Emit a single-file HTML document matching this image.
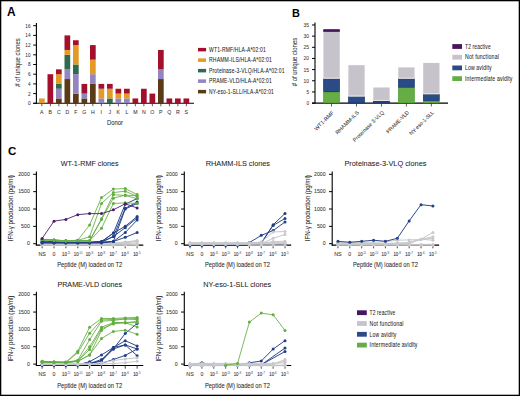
<!DOCTYPE html>
<html><head><meta charset="utf-8"><style>
html,body{margin:0;padding:0;background:#fff;}
#fig{position:relative;width:520px;height:396px;overflow:hidden;background:#fff;}
svg{position:absolute;left:0;top:0;font-family:"Liberation Sans", sans-serif;}
</style></head><body><div id="fig">
<svg width="520" height="396" viewBox="0 0 520 396">
<rect x="0" y="0" width="520" height="396" fill="#fff"/>
<text x="6.9" y="16.2" font-size="11.9" text-anchor="start" fill="#000" font-weight="bold">A</text>
<line x1="36.4" y1="23" x2="36.4" y2="103.8" stroke="#000" stroke-width="1.1"/>
<line x1="33.2" y1="103.3" x2="194" y2="103.3" stroke="#000" stroke-width="1.1"/>
<line x1="33.2" y1="103.3" x2="36.4" y2="103.3" stroke="#000" stroke-width="1"/>
<text x="30.5" y="105.2" font-size="5.5" text-anchor="end" fill="#333" font-weight="normal" stroke="#333" stroke-width="0.05" textLength="2.6" lengthAdjust="spacingAndGlyphs">0</text>
<line x1="33.2" y1="93.6" x2="36.4" y2="93.6" stroke="#000" stroke-width="1"/>
<text x="30.5" y="95.5" font-size="5.5" text-anchor="end" fill="#333" font-weight="normal" stroke="#333" stroke-width="0.05" textLength="2.6" lengthAdjust="spacingAndGlyphs">2</text>
<line x1="33.2" y1="83.9" x2="36.4" y2="83.9" stroke="#000" stroke-width="1"/>
<text x="30.5" y="85.80000000000001" font-size="5.5" text-anchor="end" fill="#333" font-weight="normal" stroke="#333" stroke-width="0.05" textLength="2.6" lengthAdjust="spacingAndGlyphs">4</text>
<line x1="33.2" y1="74.2" x2="36.4" y2="74.2" stroke="#000" stroke-width="1"/>
<text x="30.5" y="76.10000000000001" font-size="5.5" text-anchor="end" fill="#333" font-weight="normal" stroke="#333" stroke-width="0.05" textLength="2.6" lengthAdjust="spacingAndGlyphs">6</text>
<line x1="33.2" y1="64.5" x2="36.4" y2="64.5" stroke="#000" stroke-width="1"/>
<text x="30.5" y="66.4" font-size="5.5" text-anchor="end" fill="#333" font-weight="normal" stroke="#333" stroke-width="0.05" textLength="2.6" lengthAdjust="spacingAndGlyphs">8</text>
<line x1="33.2" y1="54.8" x2="36.4" y2="54.8" stroke="#000" stroke-width="1"/>
<text x="30.5" y="56.699999999999996" font-size="5.5" text-anchor="end" fill="#333" font-weight="normal" stroke="#333" stroke-width="0.05" textLength="5.2" lengthAdjust="spacingAndGlyphs">10</text>
<line x1="33.2" y1="45.1" x2="36.4" y2="45.1" stroke="#000" stroke-width="1"/>
<text x="30.5" y="47.0" font-size="5.5" text-anchor="end" fill="#333" font-weight="normal" stroke="#333" stroke-width="0.05" textLength="5.2" lengthAdjust="spacingAndGlyphs">12</text>
<line x1="33.2" y1="35.400000000000006" x2="36.4" y2="35.400000000000006" stroke="#000" stroke-width="1"/>
<text x="30.5" y="37.300000000000004" font-size="5.5" text-anchor="end" fill="#333" font-weight="normal" stroke="#333" stroke-width="0.05" textLength="5.2" lengthAdjust="spacingAndGlyphs">14</text>
<line x1="33.2" y1="25.700000000000003" x2="36.4" y2="25.700000000000003" stroke="#000" stroke-width="1"/>
<text x="30.5" y="27.6" font-size="5.5" text-anchor="end" fill="#333" font-weight="normal" stroke="#333" stroke-width="0.05" textLength="5.2" lengthAdjust="spacingAndGlyphs">16</text>
<text x="19.6" y="62.5" font-size="7.3" text-anchor="middle" fill="#333" font-weight="normal" stroke="#333" stroke-width="0.05" textLength="48.5" lengthAdjust="spacingAndGlyphs" transform="rotate(-90 19.6 62.5)"># of unique clones</text>
<rect x="39.00" y="98.45" width="5.70" height="4.85" fill="#e39a26"/>
<line x1="41.85" y1="103.3" x2="41.85" y2="106.3" stroke="#333" stroke-width="0.8"/>
<text x="41.85" y="113.8" font-size="5.2" text-anchor="middle" fill="#333" font-weight="normal" stroke="#333" stroke-width="0.05">A</text>
<rect x="47.50" y="74.20" width="5.70" height="29.10" fill="#a2102e"/>
<line x1="50.35" y1="103.3" x2="50.35" y2="106.3" stroke="#333" stroke-width="0.8"/>
<text x="50.35" y="113.8" font-size="5.2" text-anchor="middle" fill="#333" font-weight="normal" stroke="#333" stroke-width="0.05">B</text>
<rect x="56.00" y="98.45" width="5.70" height="4.85" fill="#5b3a16"/>
<rect x="56.00" y="88.75" width="5.70" height="9.70" fill="#9285c2"/>
<rect x="56.00" y="83.90" width="5.70" height="4.85" fill="#2f6b4f"/>
<rect x="56.00" y="74.20" width="5.70" height="9.70" fill="#e39a26"/>
<rect x="56.00" y="69.35" width="5.70" height="4.85" fill="#a2102e"/>
<line x1="58.85" y1="103.3" x2="58.85" y2="106.3" stroke="#333" stroke-width="0.8"/>
<text x="58.85" y="113.8" font-size="5.2" text-anchor="middle" fill="#333" font-weight="normal" stroke="#333" stroke-width="0.05">C</text>
<rect x="64.50" y="79.05" width="5.70" height="24.25" fill="#5b3a16"/>
<rect x="64.50" y="69.35" width="5.70" height="9.70" fill="#9285c2"/>
<rect x="64.50" y="54.80" width="5.70" height="14.55" fill="#2f6b4f"/>
<rect x="64.50" y="49.95" width="5.70" height="4.85" fill="#e39a26"/>
<rect x="64.50" y="35.40" width="5.70" height="14.55" fill="#a2102e"/>
<line x1="67.35" y1="103.3" x2="67.35" y2="106.3" stroke="#333" stroke-width="0.8"/>
<text x="67.35" y="113.8" font-size="5.2" text-anchor="middle" fill="#333" font-weight="normal" stroke="#333" stroke-width="0.05">D</text>
<rect x="73.00" y="93.60" width="5.70" height="9.70" fill="#5b3a16"/>
<rect x="73.00" y="74.20" width="5.70" height="19.40" fill="#9285c2"/>
<rect x="73.00" y="64.50" width="5.70" height="9.70" fill="#2f6b4f"/>
<rect x="73.00" y="45.10" width="5.70" height="19.40" fill="#e39a26"/>
<rect x="73.00" y="40.25" width="5.70" height="4.85" fill="#a2102e"/>
<line x1="75.85" y1="103.3" x2="75.85" y2="106.3" stroke="#333" stroke-width="0.8"/>
<text x="75.85" y="113.8" font-size="5.2" text-anchor="middle" fill="#333" font-weight="normal" stroke="#333" stroke-width="0.05">F</text>
<rect x="81.50" y="98.45" width="5.70" height="4.85" fill="#5b3a16"/>
<rect x="81.50" y="93.60" width="5.70" height="4.85" fill="#9285c2"/>
<rect x="81.50" y="83.90" width="5.70" height="9.70" fill="#a2102e"/>
<line x1="84.35" y1="103.3" x2="84.35" y2="106.3" stroke="#333" stroke-width="0.8"/>
<text x="84.35" y="113.8" font-size="5.2" text-anchor="middle" fill="#333" font-weight="normal" stroke="#333" stroke-width="0.05">G</text>
<rect x="90.00" y="83.90" width="5.70" height="19.40" fill="#5b3a16"/>
<rect x="90.00" y="74.20" width="5.70" height="9.70" fill="#9285c2"/>
<rect x="90.00" y="59.65" width="5.70" height="14.55" fill="#e39a26"/>
<rect x="90.00" y="45.10" width="5.70" height="14.55" fill="#a2102e"/>
<line x1="92.85" y1="103.3" x2="92.85" y2="106.3" stroke="#333" stroke-width="0.8"/>
<text x="92.85" y="113.8" font-size="5.2" text-anchor="middle" fill="#333" font-weight="normal" stroke="#333" stroke-width="0.05">H</text>
<rect x="98.50" y="98.45" width="5.70" height="4.85" fill="#9285c2"/>
<rect x="98.50" y="88.75" width="5.70" height="9.70" fill="#e39a26"/>
<rect x="98.50" y="83.90" width="5.70" height="4.85" fill="#a2102e"/>
<line x1="101.35" y1="103.3" x2="101.35" y2="106.3" stroke="#333" stroke-width="0.8"/>
<text x="101.35" y="113.8" font-size="5.2" text-anchor="middle" fill="#333" font-weight="normal" stroke="#333" stroke-width="0.05">I</text>
<rect x="107.00" y="98.45" width="5.70" height="4.85" fill="#2f6b4f"/>
<rect x="107.00" y="88.75" width="5.70" height="9.70" fill="#e39a26"/>
<rect x="107.00" y="83.90" width="5.70" height="4.85" fill="#a2102e"/>
<line x1="109.85" y1="103.3" x2="109.85" y2="106.3" stroke="#333" stroke-width="0.8"/>
<text x="109.85" y="113.8" font-size="5.2" text-anchor="middle" fill="#333" font-weight="normal" stroke="#333" stroke-width="0.05">J</text>
<rect x="115.50" y="98.45" width="5.70" height="4.85" fill="#9285c2"/>
<rect x="115.50" y="93.60" width="5.70" height="4.85" fill="#e39a26"/>
<rect x="115.50" y="88.75" width="5.70" height="4.85" fill="#a2102e"/>
<line x1="118.35" y1="103.3" x2="118.35" y2="106.3" stroke="#333" stroke-width="0.8"/>
<text x="118.35" y="113.8" font-size="5.2" text-anchor="middle" fill="#333" font-weight="normal" stroke="#333" stroke-width="0.05">K</text>
<rect x="124.00" y="98.45" width="5.70" height="4.85" fill="#9285c2"/>
<rect x="124.00" y="93.60" width="5.70" height="4.85" fill="#e39a26"/>
<rect x="124.00" y="88.75" width="5.70" height="4.85" fill="#a2102e"/>
<line x1="126.85" y1="103.3" x2="126.85" y2="106.3" stroke="#333" stroke-width="0.8"/>
<text x="126.85" y="113.8" font-size="5.2" text-anchor="middle" fill="#333" font-weight="normal" stroke="#333" stroke-width="0.05">L</text>
<rect x="132.50" y="98.45" width="5.70" height="4.85" fill="#a2102e"/>
<line x1="135.35" y1="103.3" x2="135.35" y2="106.3" stroke="#333" stroke-width="0.8"/>
<text x="135.35" y="113.8" font-size="5.2" text-anchor="middle" fill="#333" font-weight="normal" stroke="#333" stroke-width="0.05">M</text>
<rect x="141.00" y="88.75" width="5.70" height="14.55" fill="#a2102e"/>
<line x1="143.85" y1="103.3" x2="143.85" y2="106.3" stroke="#333" stroke-width="0.8"/>
<text x="143.85" y="113.8" font-size="5.2" text-anchor="middle" fill="#333" font-weight="normal" stroke="#333" stroke-width="0.05">N</text>
<rect x="149.50" y="93.60" width="5.70" height="9.70" fill="#a2102e"/>
<line x1="152.35" y1="103.3" x2="152.35" y2="106.3" stroke="#333" stroke-width="0.8"/>
<text x="152.35" y="113.8" font-size="5.2" text-anchor="middle" fill="#333" font-weight="normal" stroke="#333" stroke-width="0.05">O</text>
<rect x="158.00" y="79.05" width="5.70" height="24.25" fill="#5b3a16"/>
<rect x="158.00" y="69.35" width="5.70" height="9.70" fill="#9285c2"/>
<rect x="158.00" y="49.95" width="5.70" height="19.40" fill="#a2102e"/>
<line x1="160.85" y1="103.3" x2="160.85" y2="106.3" stroke="#333" stroke-width="0.8"/>
<text x="160.85" y="113.8" font-size="5.2" text-anchor="middle" fill="#333" font-weight="normal" stroke="#333" stroke-width="0.05">P</text>
<rect x="166.50" y="98.45" width="5.70" height="4.85" fill="#a2102e"/>
<line x1="169.35" y1="103.3" x2="169.35" y2="106.3" stroke="#333" stroke-width="0.8"/>
<text x="169.35" y="113.8" font-size="5.2" text-anchor="middle" fill="#333" font-weight="normal" stroke="#333" stroke-width="0.05">Q</text>
<rect x="175.00" y="98.45" width="5.70" height="4.85" fill="#a2102e"/>
<line x1="177.85" y1="103.3" x2="177.85" y2="106.3" stroke="#333" stroke-width="0.8"/>
<text x="177.85" y="113.8" font-size="5.2" text-anchor="middle" fill="#333" font-weight="normal" stroke="#333" stroke-width="0.05">R</text>
<rect x="183.50" y="98.45" width="5.70" height="4.85" fill="#a2102e"/>
<line x1="186.35" y1="103.3" x2="186.35" y2="106.3" stroke="#333" stroke-width="0.8"/>
<text x="186.35" y="113.8" font-size="5.2" text-anchor="middle" fill="#333" font-weight="normal" stroke="#333" stroke-width="0.05">S</text>
<text x="114.9" y="124.9" font-size="8.0" text-anchor="middle" fill="#222" font-weight="normal" stroke="#222" stroke-width="0.05" textLength="16" lengthAdjust="spacingAndGlyphs">Donor</text>
<rect x="198.00" y="47.90" width="8.10" height="3.50" fill="#a2102e"/>
<text x="209" y="51.6" font-size="6.4" text-anchor="start" fill="#222" font-weight="normal" stroke="#222" stroke-width="0.05" textLength="57" lengthAdjust="spacingAndGlyphs" letter-spacing="0.2">WT1-RMF/HLA-A*02:01</text>
<rect x="198.00" y="58.40" width="8.10" height="3.50" fill="#e39a26"/>
<text x="209" y="62.1" font-size="6.4" text-anchor="start" fill="#222" font-weight="normal" stroke="#222" stroke-width="0.05" textLength="63" lengthAdjust="spacingAndGlyphs" letter-spacing="0.2">RHAMM-ILS/HLA-A*02:01</text>
<rect x="198.00" y="68.90" width="8.10" height="3.50" fill="#2f6b4f"/>
<text x="209" y="72.60000000000001" font-size="6.4" text-anchor="start" fill="#222" font-weight="normal" stroke="#222" stroke-width="0.05" textLength="75.6" lengthAdjust="spacingAndGlyphs" letter-spacing="0.2">Proteinase-3-VLQ/HLA-A*02:01</text>
<rect x="198.00" y="79.40" width="8.10" height="3.50" fill="#9285c2"/>
<text x="209" y="83.10000000000001" font-size="6.4" text-anchor="start" fill="#222" font-weight="normal" stroke="#222" stroke-width="0.05" textLength="63" lengthAdjust="spacingAndGlyphs" letter-spacing="0.2">PRAME-VLD/HLA-A*02:01</text>
<rect x="198.00" y="89.90" width="8.10" height="3.50" fill="#5b3a16"/>
<text x="209" y="93.60000000000001" font-size="6.4" text-anchor="start" fill="#222" font-weight="normal" stroke="#222" stroke-width="0.05" textLength="65" lengthAdjust="spacingAndGlyphs" letter-spacing="0.2">NY-eso-1-SLL/HLA-A*02:01</text>
<text x="291.9" y="16.5" font-size="10.9" text-anchor="start" fill="#000" font-weight="bold">B</text>
<line x1="315" y1="22.5" x2="315" y2="103.6" stroke="#000" stroke-width="1.1"/>
<line x1="312" y1="103.1" x2="448" y2="103.1" stroke="#000" stroke-width="1.1"/>
<line x1="312" y1="103.1" x2="315" y2="103.1" stroke="#000" stroke-width="1"/>
<text x="309" y="105.0" font-size="5.5" text-anchor="end" fill="#333" font-weight="normal" stroke="#333" stroke-width="0.05" textLength="2.6" lengthAdjust="spacingAndGlyphs">0</text>
<line x1="312" y1="91.94" x2="315" y2="91.94" stroke="#000" stroke-width="1"/>
<text x="309" y="93.84" font-size="5.5" text-anchor="end" fill="#333" font-weight="normal" stroke="#333" stroke-width="0.05" textLength="2.6" lengthAdjust="spacingAndGlyphs">5</text>
<line x1="312" y1="80.78" x2="315" y2="80.78" stroke="#000" stroke-width="1"/>
<text x="309" y="82.68" font-size="5.5" text-anchor="end" fill="#333" font-weight="normal" stroke="#333" stroke-width="0.05" textLength="5.4" lengthAdjust="spacingAndGlyphs">10</text>
<line x1="312" y1="69.61999999999999" x2="315" y2="69.61999999999999" stroke="#000" stroke-width="1"/>
<text x="309" y="71.52" font-size="5.5" text-anchor="end" fill="#333" font-weight="normal" stroke="#333" stroke-width="0.05" textLength="5.4" lengthAdjust="spacingAndGlyphs">15</text>
<line x1="312" y1="58.459999999999994" x2="315" y2="58.459999999999994" stroke="#000" stroke-width="1"/>
<text x="309" y="60.35999999999999" font-size="5.5" text-anchor="end" fill="#333" font-weight="normal" stroke="#333" stroke-width="0.05" textLength="5.4" lengthAdjust="spacingAndGlyphs">20</text>
<line x1="312" y1="47.29999999999999" x2="315" y2="47.29999999999999" stroke="#000" stroke-width="1"/>
<text x="309" y="49.19999999999999" font-size="5.5" text-anchor="end" fill="#333" font-weight="normal" stroke="#333" stroke-width="0.05" textLength="5.4" lengthAdjust="spacingAndGlyphs">25</text>
<line x1="312" y1="36.139999999999986" x2="315" y2="36.139999999999986" stroke="#000" stroke-width="1"/>
<text x="309" y="38.039999999999985" font-size="5.5" text-anchor="end" fill="#333" font-weight="normal" stroke="#333" stroke-width="0.05" textLength="5.4" lengthAdjust="spacingAndGlyphs">30</text>
<line x1="312" y1="24.97999999999999" x2="315" y2="24.97999999999999" stroke="#000" stroke-width="1"/>
<text x="309" y="26.87999999999999" font-size="5.5" text-anchor="end" fill="#333" font-weight="normal" stroke="#333" stroke-width="0.05" textLength="5.4" lengthAdjust="spacingAndGlyphs">35</text>
<text x="297.3" y="62" font-size="7.3" text-anchor="middle" fill="#333" font-weight="normal" stroke="#333" stroke-width="0.05" textLength="48.5" lengthAdjust="spacingAndGlyphs" transform="rotate(-90 297.3 62)"># of unique clones</text>
<rect x="323.40" y="91.94" width="16.30" height="11.16" fill="#66ad45"/>
<rect x="323.70" y="92.24" width="15.7" height="10.56" fill="none" stroke="#4f9a34" stroke-width="0.6"/>
<rect x="323.40" y="78.55" width="16.30" height="13.39" fill="#2b4b86"/>
<rect x="323.70" y="78.85" width="15.7" height="12.79" fill="none" stroke="#1b356c" stroke-width="0.6"/>
<rect x="323.40" y="31.68" width="16.30" height="46.87" fill="#c6c4ca"/>
<rect x="323.40" y="77.65" width="16.3" height="1.0" fill="#ebe5e5"/>
<rect x="323.40" y="29.44" width="16.30" height="2.23" fill="#48165f"/>
<rect x="323.70" y="29.74" width="15.7" height="1.63" fill="none" stroke="#35104a" stroke-width="0.6"/>
<line x1="331.54999999999995" y1="103.1" x2="331.54999999999995" y2="106.5" stroke="#333" stroke-width="0.8"/>
<text x="334.44999999999993" y="112.9" font-size="5.3" text-anchor="end" fill="#333" font-weight="normal" stroke="#333" stroke-width="0.05" textLength="25.5" lengthAdjust="spacingAndGlyphs" transform="rotate(-45 334.44999999999993 112.9)">WT1-RMF</text>
<rect x="348.35" y="96.40" width="16.30" height="6.70" fill="#2b4b86"/>
<rect x="348.65" y="96.70" width="15.7" height="6.10" fill="none" stroke="#1b356c" stroke-width="0.6"/>
<rect x="348.35" y="65.16" width="16.30" height="31.25" fill="#c6c4ca"/>
<rect x="348.35" y="95.50" width="16.3" height="1.0" fill="#ebe5e5"/>
<line x1="356.49999999999994" y1="103.1" x2="356.49999999999994" y2="106.5" stroke="#333" stroke-width="0.8"/>
<text x="359.3999999999999" y="112.9" font-size="5.3" text-anchor="end" fill="#333" font-weight="normal" stroke="#333" stroke-width="0.05" textLength="31" lengthAdjust="spacingAndGlyphs" transform="rotate(-45 359.3999999999999 112.9)">RHAMM-ILS</text>
<rect x="373.30" y="100.87" width="16.30" height="2.23" fill="#2b4b86"/>
<rect x="373.60" y="101.17" width="15.7" height="1.63" fill="none" stroke="#1b356c" stroke-width="0.6"/>
<rect x="373.30" y="87.48" width="16.30" height="13.39" fill="#c6c4ca"/>
<rect x="373.30" y="99.97" width="16.3" height="1.0" fill="#ebe5e5"/>
<line x1="381.44999999999993" y1="103.1" x2="381.44999999999993" y2="106.5" stroke="#333" stroke-width="0.8"/>
<text x="384.3499999999999" y="112.9" font-size="5.3" text-anchor="end" fill="#333" font-weight="normal" stroke="#333" stroke-width="0.05" textLength="41.5" lengthAdjust="spacingAndGlyphs" transform="rotate(-45 384.3499999999999 112.9)">Proteinase 3-VLQ</text>
<rect x="398.25" y="87.48" width="16.30" height="15.62" fill="#66ad45"/>
<rect x="398.55" y="87.78" width="15.7" height="15.02" fill="none" stroke="#4f9a34" stroke-width="0.6"/>
<rect x="398.25" y="78.55" width="16.30" height="8.93" fill="#2b4b86"/>
<rect x="398.55" y="78.85" width="15.7" height="8.33" fill="none" stroke="#1b356c" stroke-width="0.6"/>
<rect x="398.25" y="67.39" width="16.30" height="11.16" fill="#c6c4ca"/>
<rect x="398.25" y="77.65" width="16.3" height="1.0" fill="#ebe5e5"/>
<line x1="406.4" y1="103.1" x2="406.4" y2="106.5" stroke="#333" stroke-width="0.8"/>
<text x="409.29999999999995" y="112.9" font-size="5.3" text-anchor="end" fill="#333" font-weight="normal" stroke="#333" stroke-width="0.05" textLength="29.5" lengthAdjust="spacingAndGlyphs" transform="rotate(-45 409.29999999999995 112.9)">PRAME-VLD</text>
<rect x="423.20" y="100.87" width="16.30" height="2.23" fill="#66ad45"/>
<rect x="423.50" y="101.17" width="15.7" height="1.63" fill="none" stroke="#4f9a34" stroke-width="0.6"/>
<rect x="423.20" y="94.17" width="16.30" height="6.70" fill="#2b4b86"/>
<rect x="423.50" y="94.47" width="15.7" height="6.10" fill="none" stroke="#1b356c" stroke-width="0.6"/>
<rect x="423.20" y="62.92" width="16.30" height="31.25" fill="#c6c4ca"/>
<rect x="423.20" y="93.27" width="16.3" height="1.0" fill="#ebe5e5"/>
<line x1="431.34999999999997" y1="103.1" x2="431.34999999999997" y2="106.5" stroke="#333" stroke-width="0.8"/>
<text x="434.24999999999994" y="112.9" font-size="5.3" text-anchor="end" fill="#333" font-weight="normal" stroke="#333" stroke-width="0.05" textLength="32" lengthAdjust="spacingAndGlyphs" transform="rotate(-45 434.24999999999994 112.9)">NY-eso-1-SLL</text>
<rect x="452.30" y="44.10" width="9.70" height="4.80" fill="#48165f"/>
<text x="465" y="48.7" font-size="6.5" text-anchor="start" fill="#222" font-weight="normal" stroke="#222" stroke-width="0.05" textLength="25.8" lengthAdjust="spacingAndGlyphs" letter-spacing="0.2">T2 reactive</text>
<rect x="452.30" y="54.80" width="9.70" height="4.80" fill="#c6c4ca"/>
<text x="465" y="59.400000000000006" font-size="6.5" text-anchor="start" fill="#222" font-weight="normal" stroke="#222" stroke-width="0.05" textLength="34" lengthAdjust="spacingAndGlyphs" letter-spacing="0.2">Not functional</text>
<rect x="452.30" y="65.50" width="9.70" height="4.80" fill="#2b4b86"/>
<text x="465" y="70.10000000000001" font-size="6.5" text-anchor="start" fill="#222" font-weight="normal" stroke="#222" stroke-width="0.05" textLength="26.8" lengthAdjust="spacingAndGlyphs" letter-spacing="0.2">Low avidity</text>
<rect x="452.30" y="76.20" width="9.70" height="4.80" fill="#66ad45"/>
<text x="465" y="80.8" font-size="6.5" text-anchor="start" fill="#222" font-weight="normal" stroke="#222" stroke-width="0.05" textLength="47.6" lengthAdjust="spacingAndGlyphs" letter-spacing="0.2">Intermediate avidity</text>
<text x="8" y="155" font-size="11.5" text-anchor="start" fill="#000" font-weight="bold">C</text>
<line x1="36.4" y1="171.39999999999998" x2="36.4" y2="245.6" stroke="#000" stroke-width="1.1"/>
<line x1="35.9" y1="245.1" x2="143.30999999999997" y2="245.1" stroke="#000" stroke-width="1.1"/>
<line x1="33.199999999999996" y1="243.7" x2="36.4" y2="243.7" stroke="#000" stroke-width="1"/>
<text x="29.799999999999997" y="245.45" font-size="5.0" text-anchor="end" fill="#333" font-weight="normal" stroke="#333" stroke-width="0.05" textLength="2.9" lengthAdjust="spacingAndGlyphs">0</text>
<line x1="33.199999999999996" y1="226.35" x2="36.4" y2="226.35" stroke="#000" stroke-width="1"/>
<text x="29.799999999999997" y="228.1" font-size="5.0" text-anchor="end" fill="#333" font-weight="normal" stroke="#333" stroke-width="0.05" textLength="8.7" lengthAdjust="spacingAndGlyphs">500</text>
<line x1="33.199999999999996" y1="209.0" x2="36.4" y2="209.0" stroke="#000" stroke-width="1"/>
<text x="29.799999999999997" y="210.75" font-size="5.0" text-anchor="end" fill="#333" font-weight="normal" stroke="#333" stroke-width="0.05" textLength="11.6" lengthAdjust="spacingAndGlyphs">1000</text>
<line x1="33.199999999999996" y1="191.64999999999998" x2="36.4" y2="191.64999999999998" stroke="#000" stroke-width="1"/>
<text x="29.799999999999997" y="193.39999999999998" font-size="5.0" text-anchor="end" fill="#333" font-weight="normal" stroke="#333" stroke-width="0.05" textLength="11.6" lengthAdjust="spacingAndGlyphs">1500</text>
<line x1="33.199999999999996" y1="174.29999999999998" x2="36.4" y2="174.29999999999998" stroke="#000" stroke-width="1"/>
<text x="29.799999999999997" y="176.04999999999998" font-size="5.0" text-anchor="end" fill="#333" font-weight="normal" stroke="#333" stroke-width="0.05" textLength="11.6" lengthAdjust="spacingAndGlyphs">2000</text>
<line x1="42.15" y1="245.1" x2="42.15" y2="248.29999999999998" stroke="#333" stroke-width="0.9"/>
<line x1="54.019999999999996" y1="245.1" x2="54.019999999999996" y2="248.29999999999998" stroke="#333" stroke-width="0.9"/>
<line x1="65.89" y1="245.1" x2="65.89" y2="248.29999999999998" stroke="#333" stroke-width="0.9"/>
<line x1="77.75999999999999" y1="245.1" x2="77.75999999999999" y2="248.29999999999998" stroke="#333" stroke-width="0.9"/>
<line x1="89.63" y1="245.1" x2="89.63" y2="248.29999999999998" stroke="#333" stroke-width="0.9"/>
<line x1="101.5" y1="245.1" x2="101.5" y2="248.29999999999998" stroke="#333" stroke-width="0.9"/>
<line x1="113.37" y1="245.1" x2="113.37" y2="248.29999999999998" stroke="#333" stroke-width="0.9"/>
<line x1="125.23999999999998" y1="245.1" x2="125.23999999999998" y2="248.29999999999998" stroke="#333" stroke-width="0.9"/>
<line x1="137.10999999999999" y1="245.1" x2="137.10999999999999" y2="248.29999999999998" stroke="#333" stroke-width="0.9"/>
<text x="42.15" y="255.89999999999998" font-size="5.2" text-anchor="middle" fill="#333" font-weight="normal" stroke="#333" stroke-width="0.05" textLength="7.5" lengthAdjust="spacingAndGlyphs">NS</text>
<text x="54.019999999999996" y="255.89999999999998" font-size="5.2" text-anchor="middle" fill="#333" font-weight="normal" stroke="#333" stroke-width="0.05">0</text>
<text x="64.39" y="255.89999999999998" font-size="5.2" text-anchor="middle" fill="#333" stroke="#333" stroke-width="0.1" textLength="4.8" lengthAdjust="spacingAndGlyphs">10</text>
<text x="66.89" y="253.49999999999997" font-size="3.0" text-anchor="start" fill="#333" textLength="3.5" lengthAdjust="spacingAndGlyphs">-11</text>
<text x="76.25999999999999" y="255.89999999999998" font-size="5.2" text-anchor="middle" fill="#333" stroke="#333" stroke-width="0.1" textLength="4.8" lengthAdjust="spacingAndGlyphs">10</text>
<text x="78.75999999999999" y="253.49999999999997" font-size="3.0" text-anchor="start" fill="#333" textLength="3.5" lengthAdjust="spacingAndGlyphs">-10</text>
<text x="88.13" y="255.89999999999998" font-size="5.2" text-anchor="middle" fill="#333" stroke="#333" stroke-width="0.1" textLength="4.8" lengthAdjust="spacingAndGlyphs">10</text>
<text x="90.63" y="253.49999999999997" font-size="3.0" text-anchor="start" fill="#333" textLength="2.6" lengthAdjust="spacingAndGlyphs">-9</text>
<text x="100.0" y="255.89999999999998" font-size="5.2" text-anchor="middle" fill="#333" stroke="#333" stroke-width="0.1" textLength="4.8" lengthAdjust="spacingAndGlyphs">10</text>
<text x="102.5" y="253.49999999999997" font-size="3.0" text-anchor="start" fill="#333" textLength="2.6" lengthAdjust="spacingAndGlyphs">-8</text>
<text x="111.87" y="255.89999999999998" font-size="5.2" text-anchor="middle" fill="#333" stroke="#333" stroke-width="0.1" textLength="4.8" lengthAdjust="spacingAndGlyphs">10</text>
<text x="114.37" y="253.49999999999997" font-size="3.0" text-anchor="start" fill="#333" textLength="2.6" lengthAdjust="spacingAndGlyphs">-7</text>
<text x="123.73999999999998" y="255.89999999999998" font-size="5.2" text-anchor="middle" fill="#333" stroke="#333" stroke-width="0.1" textLength="4.8" lengthAdjust="spacingAndGlyphs">10</text>
<text x="126.23999999999998" y="253.49999999999997" font-size="3.0" text-anchor="start" fill="#333" textLength="2.6" lengthAdjust="spacingAndGlyphs">-6</text>
<text x="135.60999999999999" y="255.89999999999998" font-size="5.2" text-anchor="middle" fill="#333" stroke="#333" stroke-width="0.1" textLength="4.8" lengthAdjust="spacingAndGlyphs">10</text>
<text x="138.10999999999999" y="253.49999999999997" font-size="3.0" text-anchor="start" fill="#333" textLength="2.6" lengthAdjust="spacingAndGlyphs">-5</text>
<text x="89.63" y="267.09999999999997" font-size="7.7" text-anchor="middle" fill="#222" font-weight="normal" stroke="#222" stroke-width="0.05" textLength="65" lengthAdjust="spacingAndGlyphs">Peptide (M) loaded on T2</text>
<text x="89.63" y="166.29999999999998" font-size="7.7" text-anchor="middle" fill="#1a1a1a" font-weight="normal" stroke="#1a1a1a" stroke-width="0.05" textLength="58" lengthAdjust="spacingAndGlyphs">WT-1-RMF clones</text>
<text x="13.3" y="208.2" font-size="7.0" text-anchor="middle" fill="#222" font-weight="normal" stroke="#222" stroke-width="0.05" textLength="66" lengthAdjust="spacingAndGlyphs" transform="rotate(-90 13.3 208.2)">IFN-γ production (pg/ml)</text>
<polyline points="42.15,245.26 54.02,245.26 65.89,245.26 77.76,245.26 89.63,245.26 101.50,245.26 113.37,245.26 125.24,245.26 137.11,245.26" fill="none" stroke="#c9c9cc" stroke-width="1.0" stroke-linejoin="round"/>
<circle cx="42.15" cy="245.26" r="1.5" fill="#c9c9cc"/>
<circle cx="54.02" cy="245.26" r="1.5" fill="#c9c9cc"/>
<circle cx="65.89" cy="245.26" r="1.5" fill="#c9c9cc"/>
<circle cx="77.76" cy="245.26" r="1.5" fill="#c9c9cc"/>
<circle cx="89.63" cy="245.26" r="1.5" fill="#c9c9cc"/>
<circle cx="101.50" cy="245.26" r="1.5" fill="#c9c9cc"/>
<circle cx="113.37" cy="245.26" r="1.5" fill="#c9c9cc"/>
<circle cx="125.24" cy="245.26" r="1.5" fill="#c9c9cc"/>
<circle cx="137.11" cy="245.26" r="1.5" fill="#c9c9cc"/>
<polyline points="42.15,245.09 54.02,245.09 65.89,245.09 77.76,245.09 89.63,245.09 101.50,245.09 113.37,245.09 125.24,244.74 137.11,244.39" fill="none" stroke="#c9c9cc" stroke-width="1.0" stroke-linejoin="round"/>
<circle cx="42.15" cy="245.09" r="1.5" fill="#c9c9cc"/>
<circle cx="54.02" cy="245.09" r="1.5" fill="#c9c9cc"/>
<circle cx="65.89" cy="245.09" r="1.5" fill="#c9c9cc"/>
<circle cx="77.76" cy="245.09" r="1.5" fill="#c9c9cc"/>
<circle cx="89.63" cy="245.09" r="1.5" fill="#c9c9cc"/>
<circle cx="101.50" cy="245.09" r="1.5" fill="#c9c9cc"/>
<circle cx="113.37" cy="245.09" r="1.5" fill="#c9c9cc"/>
<circle cx="125.24" cy="244.74" r="1.5" fill="#c9c9cc"/>
<circle cx="137.11" cy="244.39" r="1.5" fill="#c9c9cc"/>
<polyline points="42.15,244.39 54.02,244.39 65.89,244.39 77.76,244.39 89.63,244.39 101.50,244.39 113.37,244.05 125.24,243.70 137.11,243.01" fill="none" stroke="#c9c9cc" stroke-width="1.0" stroke-linejoin="round"/>
<circle cx="42.15" cy="244.39" r="1.5" fill="#c9c9cc"/>
<circle cx="54.02" cy="244.39" r="1.5" fill="#c9c9cc"/>
<circle cx="65.89" cy="244.39" r="1.5" fill="#c9c9cc"/>
<circle cx="77.76" cy="244.39" r="1.5" fill="#c9c9cc"/>
<circle cx="89.63" cy="244.39" r="1.5" fill="#c9c9cc"/>
<circle cx="101.50" cy="244.39" r="1.5" fill="#c9c9cc"/>
<circle cx="113.37" cy="244.05" r="1.5" fill="#c9c9cc"/>
<circle cx="125.24" cy="243.70" r="1.5" fill="#c9c9cc"/>
<circle cx="137.11" cy="243.01" r="1.5" fill="#c9c9cc"/>
<polyline points="42.15,243.70 54.02,243.70 65.89,243.70 77.76,243.70 89.63,243.70 101.50,243.70 113.37,243.35 125.24,242.66 137.11,241.62" fill="none" stroke="#c9c9cc" stroke-width="1.0" stroke-linejoin="round"/>
<circle cx="42.15" cy="243.70" r="1.5" fill="#c9c9cc"/>
<circle cx="54.02" cy="243.70" r="1.5" fill="#c9c9cc"/>
<circle cx="65.89" cy="243.70" r="1.5" fill="#c9c9cc"/>
<circle cx="77.76" cy="243.70" r="1.5" fill="#c9c9cc"/>
<circle cx="89.63" cy="243.70" r="1.5" fill="#c9c9cc"/>
<circle cx="101.50" cy="243.70" r="1.5" fill="#c9c9cc"/>
<circle cx="113.37" cy="243.35" r="1.5" fill="#c9c9cc"/>
<circle cx="125.24" cy="242.66" r="1.5" fill="#c9c9cc"/>
<circle cx="137.11" cy="241.62" r="1.5" fill="#c9c9cc"/>
<polyline points="42.15,244.74 54.02,244.74 65.89,244.74 77.76,244.74 89.63,244.74 101.50,244.74 113.37,243.70 125.24,242.31 137.11,240.92" fill="none" stroke="#c9c9cc" stroke-width="1.0" stroke-linejoin="round"/>
<circle cx="42.15" cy="244.74" r="1.5" fill="#c9c9cc"/>
<circle cx="54.02" cy="244.74" r="1.5" fill="#c9c9cc"/>
<circle cx="65.89" cy="244.74" r="1.5" fill="#c9c9cc"/>
<circle cx="77.76" cy="244.74" r="1.5" fill="#c9c9cc"/>
<circle cx="89.63" cy="244.74" r="1.5" fill="#c9c9cc"/>
<circle cx="101.50" cy="244.74" r="1.5" fill="#c9c9cc"/>
<circle cx="113.37" cy="243.70" r="1.5" fill="#c9c9cc"/>
<circle cx="125.24" cy="242.31" r="1.5" fill="#c9c9cc"/>
<circle cx="137.11" cy="240.92" r="1.5" fill="#c9c9cc"/>
<polyline points="42.15,243.35 54.02,243.35 65.89,243.35 77.76,243.35 89.63,243.35 101.50,243.35 113.37,243.01 125.24,241.96 137.11,240.58" fill="none" stroke="#c9c9cc" stroke-width="1.0" stroke-linejoin="round"/>
<circle cx="42.15" cy="243.35" r="1.5" fill="#c9c9cc"/>
<circle cx="54.02" cy="243.35" r="1.5" fill="#c9c9cc"/>
<circle cx="65.89" cy="243.35" r="1.5" fill="#c9c9cc"/>
<circle cx="77.76" cy="243.35" r="1.5" fill="#c9c9cc"/>
<circle cx="89.63" cy="243.35" r="1.5" fill="#c9c9cc"/>
<circle cx="101.50" cy="243.35" r="1.5" fill="#c9c9cc"/>
<circle cx="113.37" cy="243.01" r="1.5" fill="#c9c9cc"/>
<circle cx="125.24" cy="241.96" r="1.5" fill="#c9c9cc"/>
<circle cx="137.11" cy="240.58" r="1.5" fill="#c9c9cc"/>
<polyline points="42.15,240.58 54.02,241.96 65.89,242.31 77.76,242.31 89.63,242.31 101.50,241.62 113.37,233.12 125.24,204.14 137.11,198.59" fill="none" stroke="#223f86" stroke-width="0.95" stroke-linejoin="round"/>
<circle cx="42.15" cy="240.58" r="1.5" fill="#223f86"/>
<circle cx="54.02" cy="241.96" r="1.5" fill="#223f86"/>
<circle cx="65.89" cy="242.31" r="1.5" fill="#223f86"/>
<circle cx="77.76" cy="242.31" r="1.5" fill="#223f86"/>
<circle cx="89.63" cy="242.31" r="1.5" fill="#223f86"/>
<circle cx="101.50" cy="241.62" r="1.5" fill="#223f86"/>
<circle cx="113.37" cy="233.12" r="1.5" fill="#223f86"/>
<circle cx="125.24" cy="204.14" r="1.5" fill="#223f86"/>
<circle cx="137.11" cy="198.59" r="1.5" fill="#223f86"/>
<polyline points="42.15,241.96 54.02,242.31 65.89,242.66 77.76,242.66 89.63,242.66 101.50,241.96 113.37,236.62 125.24,208.31 137.11,202.06" fill="none" stroke="#223f86" stroke-width="0.95" stroke-linejoin="round"/>
<circle cx="42.15" cy="241.96" r="1.5" fill="#223f86"/>
<circle cx="54.02" cy="242.31" r="1.5" fill="#223f86"/>
<circle cx="65.89" cy="242.66" r="1.5" fill="#223f86"/>
<circle cx="77.76" cy="242.66" r="1.5" fill="#223f86"/>
<circle cx="89.63" cy="242.66" r="1.5" fill="#223f86"/>
<circle cx="101.50" cy="241.96" r="1.5" fill="#223f86"/>
<circle cx="113.37" cy="236.62" r="1.5" fill="#223f86"/>
<circle cx="125.24" cy="208.31" r="1.5" fill="#223f86"/>
<circle cx="137.11" cy="202.06" r="1.5" fill="#223f86"/>
<polyline points="42.15,242.31 54.02,242.66 65.89,242.66 77.76,242.66 89.63,242.66 101.50,242.31 113.37,241.51 125.24,209.00 137.11,203.45" fill="none" stroke="#223f86" stroke-width="0.95" stroke-linejoin="round"/>
<circle cx="42.15" cy="242.31" r="1.5" fill="#223f86"/>
<circle cx="54.02" cy="242.66" r="1.5" fill="#223f86"/>
<circle cx="65.89" cy="242.66" r="1.5" fill="#223f86"/>
<circle cx="77.76" cy="242.66" r="1.5" fill="#223f86"/>
<circle cx="89.63" cy="242.66" r="1.5" fill="#223f86"/>
<circle cx="101.50" cy="242.31" r="1.5" fill="#223f86"/>
<circle cx="113.37" cy="241.51" r="1.5" fill="#223f86"/>
<circle cx="125.24" cy="209.00" r="1.5" fill="#223f86"/>
<circle cx="137.11" cy="203.45" r="1.5" fill="#223f86"/>
<polyline points="42.15,241.96 54.02,242.31 65.89,242.31 77.76,242.31 89.63,242.31 101.50,241.62 113.37,233.12 125.24,226.25 137.11,216.60" fill="none" stroke="#223f86" stroke-width="0.95" stroke-linejoin="round"/>
<circle cx="42.15" cy="241.96" r="1.5" fill="#223f86"/>
<circle cx="54.02" cy="242.31" r="1.5" fill="#223f86"/>
<circle cx="65.89" cy="242.31" r="1.5" fill="#223f86"/>
<circle cx="77.76" cy="242.31" r="1.5" fill="#223f86"/>
<circle cx="89.63" cy="242.31" r="1.5" fill="#223f86"/>
<circle cx="101.50" cy="241.62" r="1.5" fill="#223f86"/>
<circle cx="113.37" cy="233.12" r="1.5" fill="#223f86"/>
<circle cx="125.24" cy="226.25" r="1.5" fill="#223f86"/>
<circle cx="137.11" cy="216.60" r="1.5" fill="#223f86"/>
<polyline points="42.15,242.31 54.02,242.31 65.89,242.31 77.76,242.31 89.63,242.31 101.50,241.96 113.37,236.62 125.24,227.63 137.11,217.99" fill="none" stroke="#223f86" stroke-width="0.95" stroke-linejoin="round"/>
<circle cx="42.15" cy="242.31" r="1.5" fill="#223f86"/>
<circle cx="54.02" cy="242.31" r="1.5" fill="#223f86"/>
<circle cx="65.89" cy="242.31" r="1.5" fill="#223f86"/>
<circle cx="77.76" cy="242.31" r="1.5" fill="#223f86"/>
<circle cx="89.63" cy="242.31" r="1.5" fill="#223f86"/>
<circle cx="101.50" cy="241.96" r="1.5" fill="#223f86"/>
<circle cx="113.37" cy="236.62" r="1.5" fill="#223f86"/>
<circle cx="125.24" cy="227.63" r="1.5" fill="#223f86"/>
<circle cx="137.11" cy="217.99" r="1.5" fill="#223f86"/>
<polyline points="42.15,242.66 54.02,242.66 65.89,242.66 77.76,242.66 89.63,242.66 101.50,242.31 113.37,241.51 125.24,232.56 137.11,220.07" fill="none" stroke="#223f86" stroke-width="0.95" stroke-linejoin="round"/>
<circle cx="42.15" cy="242.66" r="1.5" fill="#223f86"/>
<circle cx="54.02" cy="242.66" r="1.5" fill="#223f86"/>
<circle cx="65.89" cy="242.66" r="1.5" fill="#223f86"/>
<circle cx="77.76" cy="242.66" r="1.5" fill="#223f86"/>
<circle cx="89.63" cy="242.66" r="1.5" fill="#223f86"/>
<circle cx="101.50" cy="242.31" r="1.5" fill="#223f86"/>
<circle cx="113.37" cy="241.51" r="1.5" fill="#223f86"/>
<circle cx="125.24" cy="232.56" r="1.5" fill="#223f86"/>
<circle cx="137.11" cy="220.07" r="1.5" fill="#223f86"/>
<polyline points="42.15,243.01 54.02,243.01 65.89,243.01 77.76,243.01 89.63,243.01 101.50,243.01 113.37,241.51 125.24,237.32 137.11,232.56" fill="none" stroke="#223f86" stroke-width="0.95" stroke-linejoin="round"/>
<circle cx="42.15" cy="243.01" r="1.5" fill="#223f86"/>
<circle cx="54.02" cy="243.01" r="1.5" fill="#223f86"/>
<circle cx="65.89" cy="243.01" r="1.5" fill="#223f86"/>
<circle cx="77.76" cy="243.01" r="1.5" fill="#223f86"/>
<circle cx="89.63" cy="243.01" r="1.5" fill="#223f86"/>
<circle cx="101.50" cy="243.01" r="1.5" fill="#223f86"/>
<circle cx="113.37" cy="241.51" r="1.5" fill="#223f86"/>
<circle cx="125.24" cy="237.32" r="1.5" fill="#223f86"/>
<circle cx="137.11" cy="232.56" r="1.5" fill="#223f86"/>
<polyline points="42.15,239.40 54.02,240.06 65.89,240.75 77.76,240.23 89.63,224.96 101.50,197.62 113.37,189.08 125.24,188.56 137.11,194.53" fill="none" stroke="#63ae42" stroke-width="0.85" stroke-linejoin="round"/>
<circle cx="42.15" cy="239.40" r="1.5" fill="#63ae42"/>
<circle cx="54.02" cy="240.06" r="1.5" fill="#63ae42"/>
<circle cx="65.89" cy="240.75" r="1.5" fill="#63ae42"/>
<circle cx="77.76" cy="240.23" r="1.5" fill="#63ae42"/>
<circle cx="89.63" cy="224.96" r="1.5" fill="#63ae42"/>
<circle cx="101.50" cy="197.62" r="1.5" fill="#63ae42"/>
<circle cx="113.37" cy="189.08" r="1.5" fill="#63ae42"/>
<circle cx="125.24" cy="188.56" r="1.5" fill="#63ae42"/>
<circle cx="137.11" cy="194.53" r="1.5" fill="#63ae42"/>
<polyline points="42.15,239.40 54.02,240.06 65.89,240.75 77.76,240.40 89.63,236.66 101.50,203.45 113.37,192.55 125.24,191.16 137.11,196.40" fill="none" stroke="#63ae42" stroke-width="0.85" stroke-linejoin="round"/>
<circle cx="42.15" cy="239.40" r="1.5" fill="#63ae42"/>
<circle cx="54.02" cy="240.06" r="1.5" fill="#63ae42"/>
<circle cx="65.89" cy="240.75" r="1.5" fill="#63ae42"/>
<circle cx="77.76" cy="240.40" r="1.5" fill="#63ae42"/>
<circle cx="89.63" cy="236.66" r="1.5" fill="#63ae42"/>
<circle cx="101.50" cy="203.45" r="1.5" fill="#63ae42"/>
<circle cx="113.37" cy="192.55" r="1.5" fill="#63ae42"/>
<circle cx="125.24" cy="191.16" r="1.5" fill="#63ae42"/>
<circle cx="137.11" cy="196.40" r="1.5" fill="#63ae42"/>
<polyline points="42.15,239.54 54.02,240.23 65.89,240.75 77.76,240.40 89.63,240.58 101.50,218.82 113.37,194.63 125.24,195.50 137.11,198.69" fill="none" stroke="#63ae42" stroke-width="0.85" stroke-linejoin="round"/>
<circle cx="42.15" cy="239.54" r="1.5" fill="#63ae42"/>
<circle cx="54.02" cy="240.23" r="1.5" fill="#63ae42"/>
<circle cx="65.89" cy="240.75" r="1.5" fill="#63ae42"/>
<circle cx="77.76" cy="240.40" r="1.5" fill="#63ae42"/>
<circle cx="89.63" cy="240.58" r="1.5" fill="#63ae42"/>
<circle cx="101.50" cy="218.82" r="1.5" fill="#63ae42"/>
<circle cx="113.37" cy="194.63" r="1.5" fill="#63ae42"/>
<circle cx="125.24" cy="195.50" r="1.5" fill="#63ae42"/>
<circle cx="137.11" cy="198.69" r="1.5" fill="#63ae42"/>
<polyline points="42.15,239.40 54.02,240.06 65.89,240.75 77.76,240.58 89.63,240.75 101.50,228.26 113.37,203.45 125.24,202.86 137.11,203.45" fill="none" stroke="#63ae42" stroke-width="0.85" stroke-linejoin="round"/>
<circle cx="42.15" cy="239.40" r="1.5" fill="#63ae42"/>
<circle cx="54.02" cy="240.06" r="1.5" fill="#63ae42"/>
<circle cx="65.89" cy="240.75" r="1.5" fill="#63ae42"/>
<circle cx="77.76" cy="240.58" r="1.5" fill="#63ae42"/>
<circle cx="89.63" cy="240.75" r="1.5" fill="#63ae42"/>
<circle cx="101.50" cy="228.26" r="1.5" fill="#63ae42"/>
<circle cx="113.37" cy="203.45" r="1.5" fill="#63ae42"/>
<circle cx="125.24" cy="202.86" r="1.5" fill="#63ae42"/>
<circle cx="137.11" cy="203.45" r="1.5" fill="#63ae42"/>
<polyline points="42.15,239.54 54.02,240.23 65.89,240.92 77.76,240.75 89.63,240.92 101.50,219.41 113.37,198.21 125.24,195.12 137.11,195.81" fill="none" stroke="#63ae42" stroke-width="0.85" stroke-linejoin="round"/>
<circle cx="42.15" cy="239.54" r="1.5" fill="#63ae42"/>
<circle cx="54.02" cy="240.23" r="1.5" fill="#63ae42"/>
<circle cx="65.89" cy="240.92" r="1.5" fill="#63ae42"/>
<circle cx="77.76" cy="240.75" r="1.5" fill="#63ae42"/>
<circle cx="89.63" cy="240.92" r="1.5" fill="#63ae42"/>
<circle cx="101.50" cy="219.41" r="1.5" fill="#63ae42"/>
<circle cx="113.37" cy="198.21" r="1.5" fill="#63ae42"/>
<circle cx="125.24" cy="195.12" r="1.5" fill="#63ae42"/>
<circle cx="137.11" cy="195.81" r="1.5" fill="#63ae42"/>
<polyline points="42.15,238.39 54.02,221.14 65.89,219.41 77.76,214.66 89.63,213.62 101.50,213.62 113.37,209.83 125.24,203.79 137.11,207.96" fill="none" stroke="#4a1c6b" stroke-width="0.9" stroke-linejoin="round"/>
<circle cx="42.15" cy="238.39" r="1.5" fill="#4a1c6b"/>
<circle cx="54.02" cy="221.14" r="1.5" fill="#4a1c6b"/>
<circle cx="65.89" cy="219.41" r="1.5" fill="#4a1c6b"/>
<circle cx="77.76" cy="214.66" r="1.5" fill="#4a1c6b"/>
<circle cx="89.63" cy="213.62" r="1.5" fill="#4a1c6b"/>
<circle cx="101.50" cy="213.62" r="1.5" fill="#4a1c6b"/>
<circle cx="113.37" cy="209.83" r="1.5" fill="#4a1c6b"/>
<circle cx="125.24" cy="203.79" r="1.5" fill="#4a1c6b"/>
<circle cx="137.11" cy="207.96" r="1.5" fill="#4a1c6b"/>
<line x1="184.3" y1="171.39999999999998" x2="184.3" y2="245.6" stroke="#000" stroke-width="1.1"/>
<line x1="183.8" y1="245.1" x2="291.21" y2="245.1" stroke="#000" stroke-width="1.1"/>
<line x1="181.10000000000002" y1="243.7" x2="184.3" y2="243.7" stroke="#000" stroke-width="1"/>
<text x="177.70000000000002" y="245.45" font-size="5.0" text-anchor="end" fill="#333" font-weight="normal" stroke="#333" stroke-width="0.05" textLength="2.9" lengthAdjust="spacingAndGlyphs">0</text>
<line x1="181.10000000000002" y1="226.35" x2="184.3" y2="226.35" stroke="#000" stroke-width="1"/>
<text x="177.70000000000002" y="228.1" font-size="5.0" text-anchor="end" fill="#333" font-weight="normal" stroke="#333" stroke-width="0.05" textLength="8.7" lengthAdjust="spacingAndGlyphs">500</text>
<line x1="181.10000000000002" y1="209.0" x2="184.3" y2="209.0" stroke="#000" stroke-width="1"/>
<text x="177.70000000000002" y="210.75" font-size="5.0" text-anchor="end" fill="#333" font-weight="normal" stroke="#333" stroke-width="0.05" textLength="11.6" lengthAdjust="spacingAndGlyphs">1000</text>
<line x1="181.10000000000002" y1="191.64999999999998" x2="184.3" y2="191.64999999999998" stroke="#000" stroke-width="1"/>
<text x="177.70000000000002" y="193.39999999999998" font-size="5.0" text-anchor="end" fill="#333" font-weight="normal" stroke="#333" stroke-width="0.05" textLength="11.6" lengthAdjust="spacingAndGlyphs">1500</text>
<line x1="181.10000000000002" y1="174.29999999999998" x2="184.3" y2="174.29999999999998" stroke="#000" stroke-width="1"/>
<text x="177.70000000000002" y="176.04999999999998" font-size="5.0" text-anchor="end" fill="#333" font-weight="normal" stroke="#333" stroke-width="0.05" textLength="11.6" lengthAdjust="spacingAndGlyphs">2000</text>
<line x1="190.05" y1="245.1" x2="190.05" y2="248.29999999999998" stroke="#333" stroke-width="0.9"/>
<line x1="201.92000000000002" y1="245.1" x2="201.92000000000002" y2="248.29999999999998" stroke="#333" stroke-width="0.9"/>
<line x1="213.79000000000002" y1="245.1" x2="213.79000000000002" y2="248.29999999999998" stroke="#333" stroke-width="0.9"/>
<line x1="225.66000000000003" y1="245.1" x2="225.66000000000003" y2="248.29999999999998" stroke="#333" stroke-width="0.9"/>
<line x1="237.53" y1="245.1" x2="237.53" y2="248.29999999999998" stroke="#333" stroke-width="0.9"/>
<line x1="249.4" y1="245.1" x2="249.4" y2="248.29999999999998" stroke="#333" stroke-width="0.9"/>
<line x1="261.27" y1="245.1" x2="261.27" y2="248.29999999999998" stroke="#333" stroke-width="0.9"/>
<line x1="273.14" y1="245.1" x2="273.14" y2="248.29999999999998" stroke="#333" stroke-width="0.9"/>
<line x1="285.01" y1="245.1" x2="285.01" y2="248.29999999999998" stroke="#333" stroke-width="0.9"/>
<text x="190.05" y="255.89999999999998" font-size="5.2" text-anchor="middle" fill="#333" font-weight="normal" stroke="#333" stroke-width="0.05" textLength="7.5" lengthAdjust="spacingAndGlyphs">NS</text>
<text x="201.92000000000002" y="255.89999999999998" font-size="5.2" text-anchor="middle" fill="#333" font-weight="normal" stroke="#333" stroke-width="0.05">0</text>
<text x="212.29000000000002" y="255.89999999999998" font-size="5.2" text-anchor="middle" fill="#333" stroke="#333" stroke-width="0.1" textLength="4.8" lengthAdjust="spacingAndGlyphs">10</text>
<text x="214.79000000000002" y="253.49999999999997" font-size="3.0" text-anchor="start" fill="#333" textLength="3.5" lengthAdjust="spacingAndGlyphs">-11</text>
<text x="224.16000000000003" y="255.89999999999998" font-size="5.2" text-anchor="middle" fill="#333" stroke="#333" stroke-width="0.1" textLength="4.8" lengthAdjust="spacingAndGlyphs">10</text>
<text x="226.66000000000003" y="253.49999999999997" font-size="3.0" text-anchor="start" fill="#333" textLength="3.5" lengthAdjust="spacingAndGlyphs">-10</text>
<text x="236.03" y="255.89999999999998" font-size="5.2" text-anchor="middle" fill="#333" stroke="#333" stroke-width="0.1" textLength="4.8" lengthAdjust="spacingAndGlyphs">10</text>
<text x="238.53" y="253.49999999999997" font-size="3.0" text-anchor="start" fill="#333" textLength="2.6" lengthAdjust="spacingAndGlyphs">-9</text>
<text x="247.9" y="255.89999999999998" font-size="5.2" text-anchor="middle" fill="#333" stroke="#333" stroke-width="0.1" textLength="4.8" lengthAdjust="spacingAndGlyphs">10</text>
<text x="250.4" y="253.49999999999997" font-size="3.0" text-anchor="start" fill="#333" textLength="2.6" lengthAdjust="spacingAndGlyphs">-8</text>
<text x="259.77" y="255.89999999999998" font-size="5.2" text-anchor="middle" fill="#333" stroke="#333" stroke-width="0.1" textLength="4.8" lengthAdjust="spacingAndGlyphs">10</text>
<text x="262.27" y="253.49999999999997" font-size="3.0" text-anchor="start" fill="#333" textLength="2.6" lengthAdjust="spacingAndGlyphs">-7</text>
<text x="271.64" y="255.89999999999998" font-size="5.2" text-anchor="middle" fill="#333" stroke="#333" stroke-width="0.1" textLength="4.8" lengthAdjust="spacingAndGlyphs">10</text>
<text x="274.14" y="253.49999999999997" font-size="3.0" text-anchor="start" fill="#333" textLength="2.6" lengthAdjust="spacingAndGlyphs">-6</text>
<text x="283.51" y="255.89999999999998" font-size="5.2" text-anchor="middle" fill="#333" stroke="#333" stroke-width="0.1" textLength="4.8" lengthAdjust="spacingAndGlyphs">10</text>
<text x="286.01" y="253.49999999999997" font-size="3.0" text-anchor="start" fill="#333" textLength="2.6" lengthAdjust="spacingAndGlyphs">-5</text>
<text x="237.53" y="267.09999999999997" font-size="7.7" text-anchor="middle" fill="#222" font-weight="normal" stroke="#222" stroke-width="0.05" textLength="65" lengthAdjust="spacingAndGlyphs">Peptide (M) loaded on T2</text>
<text x="237.9" y="166.29999999999998" font-size="7.7" text-anchor="middle" fill="#1a1a1a" font-weight="normal" stroke="#1a1a1a" stroke-width="0.05" textLength="64.2" lengthAdjust="spacingAndGlyphs">RHAMM-ILS clones</text>
<text x="160.8" y="208.2" font-size="7.0" text-anchor="middle" fill="#222" font-weight="normal" stroke="#222" stroke-width="0.05" textLength="66" lengthAdjust="spacingAndGlyphs" transform="rotate(-90 160.8 208.2)">IFN-γ production (pg/ml)</text>
<polyline points="190.05,245.09 201.92,245.09 213.79,245.09 225.66,245.09 237.53,245.09 249.40,242.62 261.27,235.37 273.14,230.62 285.01,221.98" fill="none" stroke="#223f86" stroke-width="0.95" stroke-linejoin="round"/>
<circle cx="190.05" cy="245.09" r="1.5" fill="#223f86"/>
<circle cx="201.92" cy="245.09" r="1.5" fill="#223f86"/>
<circle cx="213.79" cy="245.09" r="1.5" fill="#223f86"/>
<circle cx="225.66" cy="245.09" r="1.5" fill="#223f86"/>
<circle cx="237.53" cy="245.09" r="1.5" fill="#223f86"/>
<circle cx="249.40" cy="242.62" r="1.5" fill="#223f86"/>
<circle cx="261.27" cy="235.37" r="1.5" fill="#223f86"/>
<circle cx="273.14" cy="230.62" r="1.5" fill="#223f86"/>
<circle cx="285.01" cy="221.98" r="1.5" fill="#223f86"/>
<polyline points="190.05,245.09 201.92,245.09 213.79,245.09 225.66,245.09 237.53,245.09 249.40,244.39 261.27,243.70 273.14,224.75 285.01,213.48" fill="none" stroke="#223f86" stroke-width="0.95" stroke-linejoin="round"/>
<circle cx="190.05" cy="245.09" r="1.5" fill="#223f86"/>
<circle cx="201.92" cy="245.09" r="1.5" fill="#223f86"/>
<circle cx="213.79" cy="245.09" r="1.5" fill="#223f86"/>
<circle cx="225.66" cy="245.09" r="1.5" fill="#223f86"/>
<circle cx="237.53" cy="245.09" r="1.5" fill="#223f86"/>
<circle cx="249.40" cy="244.39" r="1.5" fill="#223f86"/>
<circle cx="261.27" cy="243.70" r="1.5" fill="#223f86"/>
<circle cx="273.14" cy="224.75" r="1.5" fill="#223f86"/>
<circle cx="285.01" cy="213.48" r="1.5" fill="#223f86"/>
<polyline points="190.05,245.09 201.92,245.09 213.79,245.09 225.66,245.09 237.53,245.09 249.40,244.39 261.27,242.66 273.14,225.45 285.01,218.51" fill="none" stroke="#223f86" stroke-width="0.95" stroke-linejoin="round"/>
<circle cx="190.05" cy="245.09" r="1.5" fill="#223f86"/>
<circle cx="201.92" cy="245.09" r="1.5" fill="#223f86"/>
<circle cx="213.79" cy="245.09" r="1.5" fill="#223f86"/>
<circle cx="225.66" cy="245.09" r="1.5" fill="#223f86"/>
<circle cx="237.53" cy="245.09" r="1.5" fill="#223f86"/>
<circle cx="249.40" cy="244.39" r="1.5" fill="#223f86"/>
<circle cx="261.27" cy="242.66" r="1.5" fill="#223f86"/>
<circle cx="273.14" cy="225.45" r="1.5" fill="#223f86"/>
<circle cx="285.01" cy="218.51" r="1.5" fill="#223f86"/>
<polyline points="190.05,243.01 201.92,243.01 213.79,243.01 225.66,243.01 237.53,243.01 249.40,243.01 261.27,241.96 273.14,231.90 285.01,231.55" fill="none" stroke="#c9c9cc" stroke-width="1.0" stroke-linejoin="round"/>
<circle cx="190.05" cy="243.01" r="1.5" fill="#c9c9cc"/>
<circle cx="201.92" cy="243.01" r="1.5" fill="#c9c9cc"/>
<circle cx="213.79" cy="243.01" r="1.5" fill="#c9c9cc"/>
<circle cx="225.66" cy="243.01" r="1.5" fill="#c9c9cc"/>
<circle cx="237.53" cy="243.01" r="1.5" fill="#c9c9cc"/>
<circle cx="249.40" cy="243.01" r="1.5" fill="#c9c9cc"/>
<circle cx="261.27" cy="241.96" r="1.5" fill="#c9c9cc"/>
<circle cx="273.14" cy="231.90" r="1.5" fill="#c9c9cc"/>
<circle cx="285.01" cy="231.55" r="1.5" fill="#c9c9cc"/>
<polyline points="190.05,243.70 201.92,243.70 213.79,243.70 225.66,243.70 237.53,243.70 249.40,243.70 261.27,243.70 273.14,238.36 285.01,234.40" fill="none" stroke="#c9c9cc" stroke-width="1.0" stroke-linejoin="round"/>
<circle cx="190.05" cy="243.70" r="1.5" fill="#c9c9cc"/>
<circle cx="201.92" cy="243.70" r="1.5" fill="#c9c9cc"/>
<circle cx="213.79" cy="243.70" r="1.5" fill="#c9c9cc"/>
<circle cx="225.66" cy="243.70" r="1.5" fill="#c9c9cc"/>
<circle cx="237.53" cy="243.70" r="1.5" fill="#c9c9cc"/>
<circle cx="249.40" cy="243.70" r="1.5" fill="#c9c9cc"/>
<circle cx="261.27" cy="243.70" r="1.5" fill="#c9c9cc"/>
<circle cx="273.14" cy="238.36" r="1.5" fill="#c9c9cc"/>
<circle cx="285.01" cy="234.40" r="1.5" fill="#c9c9cc"/>
<polyline points="190.05,243.35 201.92,243.35 213.79,243.35 225.66,243.35 237.53,243.35 249.40,243.35 261.27,243.35 273.14,241.62 285.01,241.24" fill="none" stroke="#c9c9cc" stroke-width="1.0" stroke-linejoin="round"/>
<circle cx="190.05" cy="243.35" r="1.5" fill="#c9c9cc"/>
<circle cx="201.92" cy="243.35" r="1.5" fill="#c9c9cc"/>
<circle cx="213.79" cy="243.35" r="1.5" fill="#c9c9cc"/>
<circle cx="225.66" cy="243.35" r="1.5" fill="#c9c9cc"/>
<circle cx="237.53" cy="243.35" r="1.5" fill="#c9c9cc"/>
<circle cx="249.40" cy="243.35" r="1.5" fill="#c9c9cc"/>
<circle cx="261.27" cy="243.35" r="1.5" fill="#c9c9cc"/>
<circle cx="273.14" cy="241.62" r="1.5" fill="#c9c9cc"/>
<circle cx="285.01" cy="241.24" r="1.5" fill="#c9c9cc"/>
<polyline points="190.05,244.39 201.92,244.39 213.79,244.39 225.66,244.39 237.53,244.39 249.40,244.39 261.27,243.70 273.14,243.70 285.01,243.35" fill="none" stroke="#c9c9cc" stroke-width="1.0" stroke-linejoin="round"/>
<circle cx="190.05" cy="244.39" r="1.5" fill="#c9c9cc"/>
<circle cx="201.92" cy="244.39" r="1.5" fill="#c9c9cc"/>
<circle cx="213.79" cy="244.39" r="1.5" fill="#c9c9cc"/>
<circle cx="225.66" cy="244.39" r="1.5" fill="#c9c9cc"/>
<circle cx="237.53" cy="244.39" r="1.5" fill="#c9c9cc"/>
<circle cx="249.40" cy="244.39" r="1.5" fill="#c9c9cc"/>
<circle cx="261.27" cy="243.70" r="1.5" fill="#c9c9cc"/>
<circle cx="273.14" cy="243.70" r="1.5" fill="#c9c9cc"/>
<circle cx="285.01" cy="243.35" r="1.5" fill="#c9c9cc"/>
<polyline points="190.05,242.66 201.92,242.66 213.79,242.66 225.66,242.66 237.53,242.66 249.40,242.66 261.27,242.66 273.14,242.66 285.01,242.66" fill="none" stroke="#c9c9cc" stroke-width="1.0" stroke-linejoin="round"/>
<circle cx="190.05" cy="242.66" r="1.5" fill="#c9c9cc"/>
<circle cx="201.92" cy="242.66" r="1.5" fill="#c9c9cc"/>
<circle cx="213.79" cy="242.66" r="1.5" fill="#c9c9cc"/>
<circle cx="225.66" cy="242.66" r="1.5" fill="#c9c9cc"/>
<circle cx="237.53" cy="242.66" r="1.5" fill="#c9c9cc"/>
<circle cx="249.40" cy="242.66" r="1.5" fill="#c9c9cc"/>
<circle cx="261.27" cy="242.66" r="1.5" fill="#c9c9cc"/>
<circle cx="273.14" cy="242.66" r="1.5" fill="#c9c9cc"/>
<circle cx="285.01" cy="242.66" r="1.5" fill="#c9c9cc"/>
<polyline points="249.40,245.26 261.27,245.26 273.14,245.26 285.01,245.26" fill="none" stroke="#c9c9cc" stroke-width="1.0" stroke-linejoin="round"/>
<circle cx="249.40" cy="245.26" r="1.5" fill="#c9c9cc"/>
<circle cx="261.27" cy="245.26" r="1.5" fill="#c9c9cc"/>
<circle cx="273.14" cy="245.26" r="1.5" fill="#c9c9cc"/>
<circle cx="285.01" cy="245.26" r="1.5" fill="#c9c9cc"/>
<line x1="332.2" y1="171.39999999999998" x2="332.2" y2="245.6" stroke="#000" stroke-width="1.1"/>
<line x1="331.7" y1="245.1" x2="439.10999999999996" y2="245.1" stroke="#000" stroke-width="1.1"/>
<line x1="329.0" y1="243.7" x2="332.2" y2="243.7" stroke="#000" stroke-width="1"/>
<text x="325.59999999999997" y="245.45" font-size="5.0" text-anchor="end" fill="#333" font-weight="normal" stroke="#333" stroke-width="0.05" textLength="2.9" lengthAdjust="spacingAndGlyphs">0</text>
<line x1="329.0" y1="226.35" x2="332.2" y2="226.35" stroke="#000" stroke-width="1"/>
<text x="325.59999999999997" y="228.1" font-size="5.0" text-anchor="end" fill="#333" font-weight="normal" stroke="#333" stroke-width="0.05" textLength="8.7" lengthAdjust="spacingAndGlyphs">500</text>
<line x1="329.0" y1="209.0" x2="332.2" y2="209.0" stroke="#000" stroke-width="1"/>
<text x="325.59999999999997" y="210.75" font-size="5.0" text-anchor="end" fill="#333" font-weight="normal" stroke="#333" stroke-width="0.05" textLength="11.6" lengthAdjust="spacingAndGlyphs">1000</text>
<line x1="329.0" y1="191.64999999999998" x2="332.2" y2="191.64999999999998" stroke="#000" stroke-width="1"/>
<text x="325.59999999999997" y="193.39999999999998" font-size="5.0" text-anchor="end" fill="#333" font-weight="normal" stroke="#333" stroke-width="0.05" textLength="11.6" lengthAdjust="spacingAndGlyphs">1500</text>
<line x1="329.0" y1="174.29999999999998" x2="332.2" y2="174.29999999999998" stroke="#000" stroke-width="1"/>
<text x="325.59999999999997" y="176.04999999999998" font-size="5.0" text-anchor="end" fill="#333" font-weight="normal" stroke="#333" stroke-width="0.05" textLength="11.6" lengthAdjust="spacingAndGlyphs">2000</text>
<line x1="337.95" y1="245.1" x2="337.95" y2="248.29999999999998" stroke="#333" stroke-width="0.9"/>
<line x1="349.82" y1="245.1" x2="349.82" y2="248.29999999999998" stroke="#333" stroke-width="0.9"/>
<line x1="361.69" y1="245.1" x2="361.69" y2="248.29999999999998" stroke="#333" stroke-width="0.9"/>
<line x1="373.56" y1="245.1" x2="373.56" y2="248.29999999999998" stroke="#333" stroke-width="0.9"/>
<line x1="385.43" y1="245.1" x2="385.43" y2="248.29999999999998" stroke="#333" stroke-width="0.9"/>
<line x1="397.29999999999995" y1="245.1" x2="397.29999999999995" y2="248.29999999999998" stroke="#333" stroke-width="0.9"/>
<line x1="409.16999999999996" y1="245.1" x2="409.16999999999996" y2="248.29999999999998" stroke="#333" stroke-width="0.9"/>
<line x1="421.03999999999996" y1="245.1" x2="421.03999999999996" y2="248.29999999999998" stroke="#333" stroke-width="0.9"/>
<line x1="432.90999999999997" y1="245.1" x2="432.90999999999997" y2="248.29999999999998" stroke="#333" stroke-width="0.9"/>
<text x="337.95" y="255.89999999999998" font-size="5.2" text-anchor="middle" fill="#333" font-weight="normal" stroke="#333" stroke-width="0.05" textLength="7.5" lengthAdjust="spacingAndGlyphs">NS</text>
<text x="349.82" y="255.89999999999998" font-size="5.2" text-anchor="middle" fill="#333" font-weight="normal" stroke="#333" stroke-width="0.05">0</text>
<text x="360.19" y="255.89999999999998" font-size="5.2" text-anchor="middle" fill="#333" stroke="#333" stroke-width="0.1" textLength="4.8" lengthAdjust="spacingAndGlyphs">10</text>
<text x="362.69" y="253.49999999999997" font-size="3.0" text-anchor="start" fill="#333" textLength="3.5" lengthAdjust="spacingAndGlyphs">-11</text>
<text x="372.06" y="255.89999999999998" font-size="5.2" text-anchor="middle" fill="#333" stroke="#333" stroke-width="0.1" textLength="4.8" lengthAdjust="spacingAndGlyphs">10</text>
<text x="374.56" y="253.49999999999997" font-size="3.0" text-anchor="start" fill="#333" textLength="3.5" lengthAdjust="spacingAndGlyphs">-10</text>
<text x="383.93" y="255.89999999999998" font-size="5.2" text-anchor="middle" fill="#333" stroke="#333" stroke-width="0.1" textLength="4.8" lengthAdjust="spacingAndGlyphs">10</text>
<text x="386.43" y="253.49999999999997" font-size="3.0" text-anchor="start" fill="#333" textLength="2.6" lengthAdjust="spacingAndGlyphs">-9</text>
<text x="395.79999999999995" y="255.89999999999998" font-size="5.2" text-anchor="middle" fill="#333" stroke="#333" stroke-width="0.1" textLength="4.8" lengthAdjust="spacingAndGlyphs">10</text>
<text x="398.29999999999995" y="253.49999999999997" font-size="3.0" text-anchor="start" fill="#333" textLength="2.6" lengthAdjust="spacingAndGlyphs">-8</text>
<text x="407.66999999999996" y="255.89999999999998" font-size="5.2" text-anchor="middle" fill="#333" stroke="#333" stroke-width="0.1" textLength="4.8" lengthAdjust="spacingAndGlyphs">10</text>
<text x="410.16999999999996" y="253.49999999999997" font-size="3.0" text-anchor="start" fill="#333" textLength="2.6" lengthAdjust="spacingAndGlyphs">-7</text>
<text x="419.53999999999996" y="255.89999999999998" font-size="5.2" text-anchor="middle" fill="#333" stroke="#333" stroke-width="0.1" textLength="4.8" lengthAdjust="spacingAndGlyphs">10</text>
<text x="422.03999999999996" y="253.49999999999997" font-size="3.0" text-anchor="start" fill="#333" textLength="2.6" lengthAdjust="spacingAndGlyphs">-6</text>
<text x="431.40999999999997" y="255.89999999999998" font-size="5.2" text-anchor="middle" fill="#333" stroke="#333" stroke-width="0.1" textLength="4.8" lengthAdjust="spacingAndGlyphs">10</text>
<text x="433.90999999999997" y="253.49999999999997" font-size="3.0" text-anchor="start" fill="#333" textLength="2.6" lengthAdjust="spacingAndGlyphs">-5</text>
<text x="385.42999999999995" y="267.09999999999997" font-size="7.7" text-anchor="middle" fill="#222" font-weight="normal" stroke="#222" stroke-width="0.05" textLength="65" lengthAdjust="spacingAndGlyphs">Peptide (M) loaded on T2</text>
<text x="385.42999999999995" y="166.29999999999998" font-size="7.7" text-anchor="middle" fill="#1a1a1a" font-weight="normal" stroke="#1a1a1a" stroke-width="0.05" textLength="82" lengthAdjust="spacingAndGlyphs">Proteinase-3-VLQ clones</text>
<text x="309.8" y="208.2" font-size="7.0" text-anchor="middle" fill="#222" font-weight="normal" stroke="#222" stroke-width="0.05" textLength="66" lengthAdjust="spacingAndGlyphs" transform="rotate(-90 309.8 208.2)">IFN-γ production (pg/ml)</text>
<polyline points="337.95,242.31 349.82,242.31 361.69,242.31 373.56,242.31 385.43,241.62 397.30,240.23 409.17,239.88 421.04,239.54 432.91,238.08" fill="none" stroke="#c9c9cc" stroke-width="1.0" stroke-linejoin="round"/>
<circle cx="337.95" cy="242.31" r="1.5" fill="#c9c9cc"/>
<circle cx="349.82" cy="242.31" r="1.5" fill="#c9c9cc"/>
<circle cx="361.69" cy="242.31" r="1.5" fill="#c9c9cc"/>
<circle cx="373.56" cy="242.31" r="1.5" fill="#c9c9cc"/>
<circle cx="385.43" cy="241.62" r="1.5" fill="#c9c9cc"/>
<circle cx="397.30" cy="240.23" r="1.5" fill="#c9c9cc"/>
<circle cx="409.17" cy="239.88" r="1.5" fill="#c9c9cc"/>
<circle cx="421.04" cy="239.54" r="1.5" fill="#c9c9cc"/>
<circle cx="432.91" cy="238.08" r="1.5" fill="#c9c9cc"/>
<polyline points="337.95,243.70 349.82,243.70 361.69,243.70 373.56,243.70 385.43,243.70 397.30,243.70 409.17,243.70 421.04,239.19 432.91,232.49" fill="none" stroke="#c9c9cc" stroke-width="1.0" stroke-linejoin="round"/>
<circle cx="337.95" cy="243.70" r="1.5" fill="#c9c9cc"/>
<circle cx="349.82" cy="243.70" r="1.5" fill="#c9c9cc"/>
<circle cx="361.69" cy="243.70" r="1.5" fill="#c9c9cc"/>
<circle cx="373.56" cy="243.70" r="1.5" fill="#c9c9cc"/>
<circle cx="385.43" cy="243.70" r="1.5" fill="#c9c9cc"/>
<circle cx="397.30" cy="243.70" r="1.5" fill="#c9c9cc"/>
<circle cx="409.17" cy="243.70" r="1.5" fill="#c9c9cc"/>
<circle cx="421.04" cy="239.19" r="1.5" fill="#c9c9cc"/>
<circle cx="432.91" cy="232.49" r="1.5" fill="#c9c9cc"/>
<polyline points="337.95,243.35 349.82,243.35 361.69,243.35 373.56,243.35 385.43,243.35 397.30,243.01 409.17,242.66 421.04,239.19 432.91,240.23" fill="none" stroke="#c9c9cc" stroke-width="1.0" stroke-linejoin="round"/>
<circle cx="337.95" cy="243.35" r="1.5" fill="#c9c9cc"/>
<circle cx="349.82" cy="243.35" r="1.5" fill="#c9c9cc"/>
<circle cx="361.69" cy="243.35" r="1.5" fill="#c9c9cc"/>
<circle cx="373.56" cy="243.35" r="1.5" fill="#c9c9cc"/>
<circle cx="385.43" cy="243.35" r="1.5" fill="#c9c9cc"/>
<circle cx="397.30" cy="243.01" r="1.5" fill="#c9c9cc"/>
<circle cx="409.17" cy="242.66" r="1.5" fill="#c9c9cc"/>
<circle cx="421.04" cy="239.19" r="1.5" fill="#c9c9cc"/>
<circle cx="432.91" cy="240.23" r="1.5" fill="#c9c9cc"/>
<polyline points="337.95,243.70 349.82,243.70 361.69,243.70 373.56,243.70 385.43,243.70 397.30,243.70 409.17,242.31 421.04,239.19 432.91,236.76" fill="none" stroke="#c9c9cc" stroke-width="1.0" stroke-linejoin="round"/>
<circle cx="337.95" cy="243.70" r="1.5" fill="#c9c9cc"/>
<circle cx="349.82" cy="243.70" r="1.5" fill="#c9c9cc"/>
<circle cx="361.69" cy="243.70" r="1.5" fill="#c9c9cc"/>
<circle cx="373.56" cy="243.70" r="1.5" fill="#c9c9cc"/>
<circle cx="385.43" cy="243.70" r="1.5" fill="#c9c9cc"/>
<circle cx="397.30" cy="243.70" r="1.5" fill="#c9c9cc"/>
<circle cx="409.17" cy="242.31" r="1.5" fill="#c9c9cc"/>
<circle cx="421.04" cy="239.19" r="1.5" fill="#c9c9cc"/>
<circle cx="432.91" cy="236.76" r="1.5" fill="#c9c9cc"/>
<polyline points="337.95,244.39 349.82,244.39 361.69,244.39 373.56,244.39 385.43,244.39 397.30,244.39 409.17,244.39 421.04,244.39 432.91,244.39" fill="none" stroke="#c9c9cc" stroke-width="1.0" stroke-linejoin="round"/>
<circle cx="337.95" cy="244.39" r="1.5" fill="#c9c9cc"/>
<circle cx="349.82" cy="244.39" r="1.5" fill="#c9c9cc"/>
<circle cx="361.69" cy="244.39" r="1.5" fill="#c9c9cc"/>
<circle cx="373.56" cy="244.39" r="1.5" fill="#c9c9cc"/>
<circle cx="385.43" cy="244.39" r="1.5" fill="#c9c9cc"/>
<circle cx="397.30" cy="244.39" r="1.5" fill="#c9c9cc"/>
<circle cx="409.17" cy="244.39" r="1.5" fill="#c9c9cc"/>
<circle cx="421.04" cy="244.39" r="1.5" fill="#c9c9cc"/>
<circle cx="432.91" cy="244.39" r="1.5" fill="#c9c9cc"/>
<polyline points="337.95,245.26 349.82,245.26 361.69,245.26 373.56,245.26 385.43,245.26 397.30,245.26 409.17,245.26 421.04,245.26 432.91,245.26" fill="none" stroke="#c9c9cc" stroke-width="1.0" stroke-linejoin="round"/>
<circle cx="337.95" cy="245.26" r="1.5" fill="#c9c9cc"/>
<circle cx="349.82" cy="245.26" r="1.5" fill="#c9c9cc"/>
<circle cx="361.69" cy="245.26" r="1.5" fill="#c9c9cc"/>
<circle cx="373.56" cy="245.26" r="1.5" fill="#c9c9cc"/>
<circle cx="385.43" cy="245.26" r="1.5" fill="#c9c9cc"/>
<circle cx="397.30" cy="245.26" r="1.5" fill="#c9c9cc"/>
<circle cx="409.17" cy="245.26" r="1.5" fill="#c9c9cc"/>
<circle cx="421.04" cy="245.26" r="1.5" fill="#c9c9cc"/>
<circle cx="432.91" cy="245.26" r="1.5" fill="#c9c9cc"/>
<polyline points="337.95,241.31 349.82,242.31 361.69,241.31 373.56,240.23 385.43,241.31 397.30,238.32 409.17,220.90 421.04,204.63 432.91,206.02" fill="none" stroke="#223f86" stroke-width="0.95" stroke-linejoin="round"/>
<circle cx="337.95" cy="241.31" r="1.5" fill="#223f86"/>
<circle cx="349.82" cy="242.31" r="1.5" fill="#223f86"/>
<circle cx="361.69" cy="241.31" r="1.5" fill="#223f86"/>
<circle cx="373.56" cy="240.23" r="1.5" fill="#223f86"/>
<circle cx="385.43" cy="241.31" r="1.5" fill="#223f86"/>
<circle cx="397.30" cy="238.32" r="1.5" fill="#223f86"/>
<circle cx="409.17" cy="220.90" r="1.5" fill="#223f86"/>
<circle cx="421.04" cy="204.63" r="1.5" fill="#223f86"/>
<circle cx="432.91" cy="206.02" r="1.5" fill="#223f86"/>
<line x1="36.4" y1="291.8" x2="36.4" y2="366.0" stroke="#000" stroke-width="1.1"/>
<line x1="35.9" y1="365.5" x2="143.30999999999997" y2="365.5" stroke="#000" stroke-width="1.1"/>
<line x1="33.199999999999996" y1="364.1" x2="36.4" y2="364.1" stroke="#000" stroke-width="1"/>
<text x="29.799999999999997" y="365.85" font-size="5.0" text-anchor="end" fill="#333" font-weight="normal" stroke="#333" stroke-width="0.05" textLength="2.9" lengthAdjust="spacingAndGlyphs">0</text>
<line x1="33.199999999999996" y1="346.75" x2="36.4" y2="346.75" stroke="#000" stroke-width="1"/>
<text x="29.799999999999997" y="348.5" font-size="5.0" text-anchor="end" fill="#333" font-weight="normal" stroke="#333" stroke-width="0.05" textLength="8.7" lengthAdjust="spacingAndGlyphs">500</text>
<line x1="33.199999999999996" y1="329.40000000000003" x2="36.4" y2="329.40000000000003" stroke="#000" stroke-width="1"/>
<text x="29.799999999999997" y="331.15000000000003" font-size="5.0" text-anchor="end" fill="#333" font-weight="normal" stroke="#333" stroke-width="0.05" textLength="11.6" lengthAdjust="spacingAndGlyphs">1000</text>
<line x1="33.199999999999996" y1="312.05" x2="36.4" y2="312.05" stroke="#000" stroke-width="1"/>
<text x="29.799999999999997" y="313.8" font-size="5.0" text-anchor="end" fill="#333" font-weight="normal" stroke="#333" stroke-width="0.05" textLength="11.6" lengthAdjust="spacingAndGlyphs">1500</text>
<line x1="33.199999999999996" y1="294.70000000000005" x2="36.4" y2="294.70000000000005" stroke="#000" stroke-width="1"/>
<text x="29.799999999999997" y="296.45000000000005" font-size="5.0" text-anchor="end" fill="#333" font-weight="normal" stroke="#333" stroke-width="0.05" textLength="11.6" lengthAdjust="spacingAndGlyphs">2000</text>
<line x1="42.15" y1="365.5" x2="42.15" y2="368.70000000000005" stroke="#333" stroke-width="0.9"/>
<line x1="54.019999999999996" y1="365.5" x2="54.019999999999996" y2="368.70000000000005" stroke="#333" stroke-width="0.9"/>
<line x1="65.89" y1="365.5" x2="65.89" y2="368.70000000000005" stroke="#333" stroke-width="0.9"/>
<line x1="77.75999999999999" y1="365.5" x2="77.75999999999999" y2="368.70000000000005" stroke="#333" stroke-width="0.9"/>
<line x1="89.63" y1="365.5" x2="89.63" y2="368.70000000000005" stroke="#333" stroke-width="0.9"/>
<line x1="101.5" y1="365.5" x2="101.5" y2="368.70000000000005" stroke="#333" stroke-width="0.9"/>
<line x1="113.37" y1="365.5" x2="113.37" y2="368.70000000000005" stroke="#333" stroke-width="0.9"/>
<line x1="125.23999999999998" y1="365.5" x2="125.23999999999998" y2="368.70000000000005" stroke="#333" stroke-width="0.9"/>
<line x1="137.10999999999999" y1="365.5" x2="137.10999999999999" y2="368.70000000000005" stroke="#333" stroke-width="0.9"/>
<text x="42.15" y="376.3" font-size="5.2" text-anchor="middle" fill="#333" font-weight="normal" stroke="#333" stroke-width="0.05" textLength="7.5" lengthAdjust="spacingAndGlyphs">NS</text>
<text x="54.019999999999996" y="376.3" font-size="5.2" text-anchor="middle" fill="#333" font-weight="normal" stroke="#333" stroke-width="0.05">0</text>
<text x="64.39" y="376.3" font-size="5.2" text-anchor="middle" fill="#333" stroke="#333" stroke-width="0.1" textLength="4.8" lengthAdjust="spacingAndGlyphs">10</text>
<text x="66.89" y="373.90000000000003" font-size="3.0" text-anchor="start" fill="#333" textLength="3.5" lengthAdjust="spacingAndGlyphs">-11</text>
<text x="76.25999999999999" y="376.3" font-size="5.2" text-anchor="middle" fill="#333" stroke="#333" stroke-width="0.1" textLength="4.8" lengthAdjust="spacingAndGlyphs">10</text>
<text x="78.75999999999999" y="373.90000000000003" font-size="3.0" text-anchor="start" fill="#333" textLength="3.5" lengthAdjust="spacingAndGlyphs">-10</text>
<text x="88.13" y="376.3" font-size="5.2" text-anchor="middle" fill="#333" stroke="#333" stroke-width="0.1" textLength="4.8" lengthAdjust="spacingAndGlyphs">10</text>
<text x="90.63" y="373.90000000000003" font-size="3.0" text-anchor="start" fill="#333" textLength="2.6" lengthAdjust="spacingAndGlyphs">-9</text>
<text x="100.0" y="376.3" font-size="5.2" text-anchor="middle" fill="#333" stroke="#333" stroke-width="0.1" textLength="4.8" lengthAdjust="spacingAndGlyphs">10</text>
<text x="102.5" y="373.90000000000003" font-size="3.0" text-anchor="start" fill="#333" textLength="2.6" lengthAdjust="spacingAndGlyphs">-8</text>
<text x="111.87" y="376.3" font-size="5.2" text-anchor="middle" fill="#333" stroke="#333" stroke-width="0.1" textLength="4.8" lengthAdjust="spacingAndGlyphs">10</text>
<text x="114.37" y="373.90000000000003" font-size="3.0" text-anchor="start" fill="#333" textLength="2.6" lengthAdjust="spacingAndGlyphs">-7</text>
<text x="123.73999999999998" y="376.3" font-size="5.2" text-anchor="middle" fill="#333" stroke="#333" stroke-width="0.1" textLength="4.8" lengthAdjust="spacingAndGlyphs">10</text>
<text x="126.23999999999998" y="373.90000000000003" font-size="3.0" text-anchor="start" fill="#333" textLength="2.6" lengthAdjust="spacingAndGlyphs">-6</text>
<text x="135.60999999999999" y="376.3" font-size="5.2" text-anchor="middle" fill="#333" stroke="#333" stroke-width="0.1" textLength="4.8" lengthAdjust="spacingAndGlyphs">10</text>
<text x="138.10999999999999" y="373.90000000000003" font-size="3.0" text-anchor="start" fill="#333" textLength="2.6" lengthAdjust="spacingAndGlyphs">-5</text>
<text x="89.63" y="387.5" font-size="7.7" text-anchor="middle" fill="#222" font-weight="normal" stroke="#222" stroke-width="0.05" textLength="65" lengthAdjust="spacingAndGlyphs">Peptide (M) loaded on T2</text>
<text x="89.7" y="286.90000000000003" font-size="7.7" text-anchor="middle" fill="#1a1a1a" font-weight="normal" stroke="#1a1a1a" stroke-width="0.05" textLength="64.6" lengthAdjust="spacingAndGlyphs">PRAME-VLD clones</text>
<text x="12.8" y="328.6" font-size="7.0" text-anchor="middle" fill="#222" font-weight="normal" stroke="#222" stroke-width="0.05" textLength="66" lengthAdjust="spacingAndGlyphs" transform="rotate(-90 12.8 328.6)">IFN-γ production (pg/ml)</text>
<polyline points="42.15,364.79 54.02,364.79 65.89,364.79 77.76,364.79 89.63,363.54 101.50,360.98 113.37,348.97 125.24,333.49 137.11,323.43" fill="none" stroke="#223f86" stroke-width="0.95" stroke-linejoin="round"/>
<circle cx="42.15" cy="364.79" r="1.5" fill="#223f86"/>
<circle cx="54.02" cy="364.79" r="1.5" fill="#223f86"/>
<circle cx="65.89" cy="364.79" r="1.5" fill="#223f86"/>
<circle cx="77.76" cy="364.79" r="1.5" fill="#223f86"/>
<circle cx="89.63" cy="363.54" r="1.5" fill="#223f86"/>
<circle cx="101.50" cy="360.98" r="1.5" fill="#223f86"/>
<circle cx="113.37" cy="348.97" r="1.5" fill="#223f86"/>
<circle cx="125.24" cy="333.49" r="1.5" fill="#223f86"/>
<circle cx="137.11" cy="323.43" r="1.5" fill="#223f86"/>
<polyline points="42.15,364.79 54.02,364.79 65.89,364.79 77.76,364.79 89.63,361.74 101.50,354.97 113.37,347.48 125.24,340.71 137.11,345.99" fill="none" stroke="#223f86" stroke-width="0.95" stroke-linejoin="round"/>
<circle cx="42.15" cy="364.79" r="1.5" fill="#223f86"/>
<circle cx="54.02" cy="364.79" r="1.5" fill="#223f86"/>
<circle cx="65.89" cy="364.79" r="1.5" fill="#223f86"/>
<circle cx="77.76" cy="364.79" r="1.5" fill="#223f86"/>
<circle cx="89.63" cy="361.74" r="1.5" fill="#223f86"/>
<circle cx="101.50" cy="354.97" r="1.5" fill="#223f86"/>
<circle cx="113.37" cy="347.48" r="1.5" fill="#223f86"/>
<circle cx="125.24" cy="340.71" r="1.5" fill="#223f86"/>
<circle cx="137.11" cy="345.99" r="1.5" fill="#223f86"/>
<polyline points="42.15,364.79 54.02,364.79 65.89,364.79 77.76,364.79 89.63,363.54 101.50,359.48 113.37,348.97 125.24,344.91 137.11,355.74" fill="none" stroke="#223f86" stroke-width="0.95" stroke-linejoin="round"/>
<circle cx="42.15" cy="364.79" r="1.5" fill="#223f86"/>
<circle cx="54.02" cy="364.79" r="1.5" fill="#223f86"/>
<circle cx="65.89" cy="364.79" r="1.5" fill="#223f86"/>
<circle cx="77.76" cy="364.79" r="1.5" fill="#223f86"/>
<circle cx="89.63" cy="363.54" r="1.5" fill="#223f86"/>
<circle cx="101.50" cy="359.48" r="1.5" fill="#223f86"/>
<circle cx="113.37" cy="348.97" r="1.5" fill="#223f86"/>
<circle cx="125.24" cy="344.91" r="1.5" fill="#223f86"/>
<circle cx="137.11" cy="355.74" r="1.5" fill="#223f86"/>
<polyline points="42.15,364.79 54.02,364.79 65.89,364.79 77.76,364.79 89.63,363.54 101.50,360.98 113.37,347.48 125.24,344.91 137.11,348.97" fill="none" stroke="#223f86" stroke-width="0.95" stroke-linejoin="round"/>
<circle cx="42.15" cy="364.79" r="1.5" fill="#223f86"/>
<circle cx="54.02" cy="364.79" r="1.5" fill="#223f86"/>
<circle cx="65.89" cy="364.79" r="1.5" fill="#223f86"/>
<circle cx="77.76" cy="364.79" r="1.5" fill="#223f86"/>
<circle cx="89.63" cy="363.54" r="1.5" fill="#223f86"/>
<circle cx="101.50" cy="360.98" r="1.5" fill="#223f86"/>
<circle cx="113.37" cy="347.48" r="1.5" fill="#223f86"/>
<circle cx="125.24" cy="344.91" r="1.5" fill="#223f86"/>
<circle cx="137.11" cy="348.97" r="1.5" fill="#223f86"/>
<polyline points="42.15,365.14 54.02,365.14 65.89,365.14 77.76,365.14 89.63,364.45 101.50,363.41 113.37,359.48 125.24,355.43 137.11,348.97" fill="none" stroke="#223f86" stroke-width="0.95" stroke-linejoin="round"/>
<circle cx="42.15" cy="365.14" r="1.5" fill="#223f86"/>
<circle cx="54.02" cy="365.14" r="1.5" fill="#223f86"/>
<circle cx="65.89" cy="365.14" r="1.5" fill="#223f86"/>
<circle cx="77.76" cy="365.14" r="1.5" fill="#223f86"/>
<circle cx="89.63" cy="364.45" r="1.5" fill="#223f86"/>
<circle cx="101.50" cy="363.41" r="1.5" fill="#223f86"/>
<circle cx="113.37" cy="359.48" r="1.5" fill="#223f86"/>
<circle cx="125.24" cy="355.43" r="1.5" fill="#223f86"/>
<circle cx="137.11" cy="348.97" r="1.5" fill="#223f86"/>
<polyline points="42.15,364.10 54.02,364.10 65.89,364.10 77.76,364.10 89.63,364.10 101.50,362.71 113.37,360.63 125.24,358.90 137.11,357.85" fill="none" stroke="#c9c9cc" stroke-width="1.0" stroke-linejoin="round"/>
<circle cx="42.15" cy="364.10" r="1.5" fill="#c9c9cc"/>
<circle cx="54.02" cy="364.10" r="1.5" fill="#c9c9cc"/>
<circle cx="65.89" cy="364.10" r="1.5" fill="#c9c9cc"/>
<circle cx="77.76" cy="364.10" r="1.5" fill="#c9c9cc"/>
<circle cx="89.63" cy="364.10" r="1.5" fill="#c9c9cc"/>
<circle cx="101.50" cy="362.71" r="1.5" fill="#c9c9cc"/>
<circle cx="113.37" cy="360.63" r="1.5" fill="#c9c9cc"/>
<circle cx="125.24" cy="358.90" r="1.5" fill="#c9c9cc"/>
<circle cx="137.11" cy="357.85" r="1.5" fill="#c9c9cc"/>
<polyline points="42.15,364.45 54.02,364.45 65.89,364.45 77.76,364.45 89.63,364.45 101.50,364.10 113.37,363.41 125.24,362.71 137.11,361.32" fill="none" stroke="#c9c9cc" stroke-width="1.0" stroke-linejoin="round"/>
<circle cx="42.15" cy="364.45" r="1.5" fill="#c9c9cc"/>
<circle cx="54.02" cy="364.45" r="1.5" fill="#c9c9cc"/>
<circle cx="65.89" cy="364.45" r="1.5" fill="#c9c9cc"/>
<circle cx="77.76" cy="364.45" r="1.5" fill="#c9c9cc"/>
<circle cx="89.63" cy="364.45" r="1.5" fill="#c9c9cc"/>
<circle cx="101.50" cy="364.10" r="1.5" fill="#c9c9cc"/>
<circle cx="113.37" cy="363.41" r="1.5" fill="#c9c9cc"/>
<circle cx="125.24" cy="362.71" r="1.5" fill="#c9c9cc"/>
<circle cx="137.11" cy="361.32" r="1.5" fill="#c9c9cc"/>
<polyline points="42.15,363.41 54.02,363.41 65.89,363.41 77.76,363.41 89.63,363.75" fill="none" stroke="#c9c9cc" stroke-width="1.0" stroke-linejoin="round"/>
<circle cx="42.15" cy="363.41" r="1.5" fill="#c9c9cc"/>
<circle cx="54.02" cy="363.41" r="1.5" fill="#c9c9cc"/>
<circle cx="65.89" cy="363.41" r="1.5" fill="#c9c9cc"/>
<circle cx="77.76" cy="363.41" r="1.5" fill="#c9c9cc"/>
<circle cx="89.63" cy="363.75" r="1.5" fill="#c9c9cc"/>
<polyline points="42.15,361.32 54.02,362.02 65.89,362.37 77.76,351.23 89.63,327.18 101.50,318.47 113.37,318.47 125.24,317.88 137.11,317.43" fill="none" stroke="#63ae42" stroke-width="0.85" stroke-linejoin="round"/>
<circle cx="42.15" cy="361.32" r="1.5" fill="#63ae42"/>
<circle cx="54.02" cy="362.02" r="1.5" fill="#63ae42"/>
<circle cx="65.89" cy="362.37" r="1.5" fill="#63ae42"/>
<circle cx="77.76" cy="351.23" r="1.5" fill="#63ae42"/>
<circle cx="89.63" cy="327.18" r="1.5" fill="#63ae42"/>
<circle cx="101.50" cy="318.47" r="1.5" fill="#63ae42"/>
<circle cx="113.37" cy="318.47" r="1.5" fill="#63ae42"/>
<circle cx="125.24" cy="317.88" r="1.5" fill="#63ae42"/>
<circle cx="137.11" cy="317.43" r="1.5" fill="#63ae42"/>
<polyline points="42.15,361.32 54.02,362.02 65.89,362.37 77.76,352.72 89.63,333.22 101.50,319.96 113.37,319.37 125.24,318.92 137.11,318.47" fill="none" stroke="#63ae42" stroke-width="0.85" stroke-linejoin="round"/>
<circle cx="42.15" cy="361.32" r="1.5" fill="#63ae42"/>
<circle cx="54.02" cy="362.02" r="1.5" fill="#63ae42"/>
<circle cx="65.89" cy="362.37" r="1.5" fill="#63ae42"/>
<circle cx="77.76" cy="352.72" r="1.5" fill="#63ae42"/>
<circle cx="89.63" cy="333.22" r="1.5" fill="#63ae42"/>
<circle cx="101.50" cy="319.96" r="1.5" fill="#63ae42"/>
<circle cx="113.37" cy="319.37" r="1.5" fill="#63ae42"/>
<circle cx="125.24" cy="318.92" r="1.5" fill="#63ae42"/>
<circle cx="137.11" cy="318.47" r="1.5" fill="#63ae42"/>
<polyline points="42.15,361.67 54.02,362.02 65.89,362.37 77.76,360.25 89.63,339.50 101.50,321.18 113.37,320.41 125.24,318.92 137.11,319.68" fill="none" stroke="#63ae42" stroke-width="0.85" stroke-linejoin="round"/>
<circle cx="42.15" cy="361.67" r="1.5" fill="#63ae42"/>
<circle cx="54.02" cy="362.02" r="1.5" fill="#63ae42"/>
<circle cx="65.89" cy="362.37" r="1.5" fill="#63ae42"/>
<circle cx="77.76" cy="360.25" r="1.5" fill="#63ae42"/>
<circle cx="89.63" cy="339.50" r="1.5" fill="#63ae42"/>
<circle cx="101.50" cy="321.18" r="1.5" fill="#63ae42"/>
<circle cx="113.37" cy="320.41" r="1.5" fill="#63ae42"/>
<circle cx="125.24" cy="318.92" r="1.5" fill="#63ae42"/>
<circle cx="137.11" cy="319.68" r="1.5" fill="#63ae42"/>
<polyline points="42.15,361.67 54.02,362.37 65.89,362.37 77.76,360.98 89.63,346.72 101.50,327.18 113.37,322.67 125.24,322.67 137.11,321.49" fill="none" stroke="#63ae42" stroke-width="0.85" stroke-linejoin="round"/>
<circle cx="42.15" cy="361.67" r="1.5" fill="#63ae42"/>
<circle cx="54.02" cy="362.37" r="1.5" fill="#63ae42"/>
<circle cx="65.89" cy="362.37" r="1.5" fill="#63ae42"/>
<circle cx="77.76" cy="360.98" r="1.5" fill="#63ae42"/>
<circle cx="89.63" cy="346.72" r="1.5" fill="#63ae42"/>
<circle cx="101.50" cy="327.18" r="1.5" fill="#63ae42"/>
<circle cx="113.37" cy="322.67" r="1.5" fill="#63ae42"/>
<circle cx="125.24" cy="322.67" r="1.5" fill="#63ae42"/>
<circle cx="137.11" cy="321.49" r="1.5" fill="#63ae42"/>
<polyline points="42.15,362.02 54.02,362.37 65.89,362.37 77.76,360.98 89.63,349.42 101.50,328.71 113.37,323.88 125.24,322.67 137.11,322.67" fill="none" stroke="#63ae42" stroke-width="0.85" stroke-linejoin="round"/>
<circle cx="42.15" cy="362.02" r="1.5" fill="#63ae42"/>
<circle cx="54.02" cy="362.37" r="1.5" fill="#63ae42"/>
<circle cx="65.89" cy="362.37" r="1.5" fill="#63ae42"/>
<circle cx="77.76" cy="360.98" r="1.5" fill="#63ae42"/>
<circle cx="89.63" cy="349.42" r="1.5" fill="#63ae42"/>
<circle cx="101.50" cy="328.71" r="1.5" fill="#63ae42"/>
<circle cx="113.37" cy="323.88" r="1.5" fill="#63ae42"/>
<circle cx="125.24" cy="322.67" r="1.5" fill="#63ae42"/>
<circle cx="137.11" cy="322.67" r="1.5" fill="#63ae42"/>
<polyline points="42.15,362.02 54.02,362.37 65.89,362.37 77.76,361.32 89.63,354.97 101.50,330.51 113.37,322.67 125.24,322.67 137.11,326.90" fill="none" stroke="#63ae42" stroke-width="0.85" stroke-linejoin="round"/>
<circle cx="42.15" cy="362.02" r="1.5" fill="#63ae42"/>
<circle cx="54.02" cy="362.37" r="1.5" fill="#63ae42"/>
<circle cx="65.89" cy="362.37" r="1.5" fill="#63ae42"/>
<circle cx="77.76" cy="361.32" r="1.5" fill="#63ae42"/>
<circle cx="89.63" cy="354.97" r="1.5" fill="#63ae42"/>
<circle cx="101.50" cy="330.51" r="1.5" fill="#63ae42"/>
<circle cx="113.37" cy="322.67" r="1.5" fill="#63ae42"/>
<circle cx="125.24" cy="322.67" r="1.5" fill="#63ae42"/>
<circle cx="137.11" cy="326.90" r="1.5" fill="#63ae42"/>
<polyline points="42.15,362.02 54.02,362.37 65.89,362.71 77.76,361.32 89.63,354.97 101.50,338.46 113.37,331.41 125.24,330.20 137.11,334.26" fill="none" stroke="#63ae42" stroke-width="0.85" stroke-linejoin="round"/>
<circle cx="42.15" cy="362.02" r="1.5" fill="#63ae42"/>
<circle cx="54.02" cy="362.37" r="1.5" fill="#63ae42"/>
<circle cx="65.89" cy="362.71" r="1.5" fill="#63ae42"/>
<circle cx="77.76" cy="361.32" r="1.5" fill="#63ae42"/>
<circle cx="89.63" cy="354.97" r="1.5" fill="#63ae42"/>
<circle cx="101.50" cy="338.46" r="1.5" fill="#63ae42"/>
<circle cx="113.37" cy="331.41" r="1.5" fill="#63ae42"/>
<circle cx="125.24" cy="330.20" r="1.5" fill="#63ae42"/>
<circle cx="137.11" cy="334.26" r="1.5" fill="#63ae42"/>
<line x1="184.3" y1="291.8" x2="184.3" y2="366.0" stroke="#000" stroke-width="1.1"/>
<line x1="183.8" y1="365.5" x2="291.21" y2="365.5" stroke="#000" stroke-width="1.1"/>
<line x1="181.10000000000002" y1="364.1" x2="184.3" y2="364.1" stroke="#000" stroke-width="1"/>
<text x="177.70000000000002" y="365.85" font-size="5.0" text-anchor="end" fill="#333" font-weight="normal" stroke="#333" stroke-width="0.05" textLength="2.9" lengthAdjust="spacingAndGlyphs">0</text>
<line x1="181.10000000000002" y1="346.75" x2="184.3" y2="346.75" stroke="#000" stroke-width="1"/>
<text x="177.70000000000002" y="348.5" font-size="5.0" text-anchor="end" fill="#333" font-weight="normal" stroke="#333" stroke-width="0.05" textLength="8.7" lengthAdjust="spacingAndGlyphs">500</text>
<line x1="181.10000000000002" y1="329.40000000000003" x2="184.3" y2="329.40000000000003" stroke="#000" stroke-width="1"/>
<text x="177.70000000000002" y="331.15000000000003" font-size="5.0" text-anchor="end" fill="#333" font-weight="normal" stroke="#333" stroke-width="0.05" textLength="11.6" lengthAdjust="spacingAndGlyphs">1000</text>
<line x1="181.10000000000002" y1="312.05" x2="184.3" y2="312.05" stroke="#000" stroke-width="1"/>
<text x="177.70000000000002" y="313.8" font-size="5.0" text-anchor="end" fill="#333" font-weight="normal" stroke="#333" stroke-width="0.05" textLength="11.6" lengthAdjust="spacingAndGlyphs">1500</text>
<line x1="181.10000000000002" y1="294.70000000000005" x2="184.3" y2="294.70000000000005" stroke="#000" stroke-width="1"/>
<text x="177.70000000000002" y="296.45000000000005" font-size="5.0" text-anchor="end" fill="#333" font-weight="normal" stroke="#333" stroke-width="0.05" textLength="11.6" lengthAdjust="spacingAndGlyphs">2000</text>
<line x1="190.05" y1="365.5" x2="190.05" y2="368.70000000000005" stroke="#333" stroke-width="0.9"/>
<line x1="201.92000000000002" y1="365.5" x2="201.92000000000002" y2="368.70000000000005" stroke="#333" stroke-width="0.9"/>
<line x1="213.79000000000002" y1="365.5" x2="213.79000000000002" y2="368.70000000000005" stroke="#333" stroke-width="0.9"/>
<line x1="225.66000000000003" y1="365.5" x2="225.66000000000003" y2="368.70000000000005" stroke="#333" stroke-width="0.9"/>
<line x1="237.53" y1="365.5" x2="237.53" y2="368.70000000000005" stroke="#333" stroke-width="0.9"/>
<line x1="249.4" y1="365.5" x2="249.4" y2="368.70000000000005" stroke="#333" stroke-width="0.9"/>
<line x1="261.27" y1="365.5" x2="261.27" y2="368.70000000000005" stroke="#333" stroke-width="0.9"/>
<line x1="273.14" y1="365.5" x2="273.14" y2="368.70000000000005" stroke="#333" stroke-width="0.9"/>
<line x1="285.01" y1="365.5" x2="285.01" y2="368.70000000000005" stroke="#333" stroke-width="0.9"/>
<text x="190.05" y="376.3" font-size="5.2" text-anchor="middle" fill="#333" font-weight="normal" stroke="#333" stroke-width="0.05" textLength="7.5" lengthAdjust="spacingAndGlyphs">NS</text>
<text x="201.92000000000002" y="376.3" font-size="5.2" text-anchor="middle" fill="#333" font-weight="normal" stroke="#333" stroke-width="0.05">0</text>
<text x="212.29000000000002" y="376.3" font-size="5.2" text-anchor="middle" fill="#333" stroke="#333" stroke-width="0.1" textLength="4.8" lengthAdjust="spacingAndGlyphs">10</text>
<text x="214.79000000000002" y="373.90000000000003" font-size="3.0" text-anchor="start" fill="#333" textLength="3.5" lengthAdjust="spacingAndGlyphs">-11</text>
<text x="224.16000000000003" y="376.3" font-size="5.2" text-anchor="middle" fill="#333" stroke="#333" stroke-width="0.1" textLength="4.8" lengthAdjust="spacingAndGlyphs">10</text>
<text x="226.66000000000003" y="373.90000000000003" font-size="3.0" text-anchor="start" fill="#333" textLength="3.5" lengthAdjust="spacingAndGlyphs">-10</text>
<text x="236.03" y="376.3" font-size="5.2" text-anchor="middle" fill="#333" stroke="#333" stroke-width="0.1" textLength="4.8" lengthAdjust="spacingAndGlyphs">10</text>
<text x="238.53" y="373.90000000000003" font-size="3.0" text-anchor="start" fill="#333" textLength="2.6" lengthAdjust="spacingAndGlyphs">-9</text>
<text x="247.9" y="376.3" font-size="5.2" text-anchor="middle" fill="#333" stroke="#333" stroke-width="0.1" textLength="4.8" lengthAdjust="spacingAndGlyphs">10</text>
<text x="250.4" y="373.90000000000003" font-size="3.0" text-anchor="start" fill="#333" textLength="2.6" lengthAdjust="spacingAndGlyphs">-8</text>
<text x="259.77" y="376.3" font-size="5.2" text-anchor="middle" fill="#333" stroke="#333" stroke-width="0.1" textLength="4.8" lengthAdjust="spacingAndGlyphs">10</text>
<text x="262.27" y="373.90000000000003" font-size="3.0" text-anchor="start" fill="#333" textLength="2.6" lengthAdjust="spacingAndGlyphs">-7</text>
<text x="271.64" y="376.3" font-size="5.2" text-anchor="middle" fill="#333" stroke="#333" stroke-width="0.1" textLength="4.8" lengthAdjust="spacingAndGlyphs">10</text>
<text x="274.14" y="373.90000000000003" font-size="3.0" text-anchor="start" fill="#333" textLength="2.6" lengthAdjust="spacingAndGlyphs">-6</text>
<text x="283.51" y="376.3" font-size="5.2" text-anchor="middle" fill="#333" stroke="#333" stroke-width="0.1" textLength="4.8" lengthAdjust="spacingAndGlyphs">10</text>
<text x="286.01" y="373.90000000000003" font-size="3.0" text-anchor="start" fill="#333" textLength="2.6" lengthAdjust="spacingAndGlyphs">-5</text>
<text x="237.53" y="387.5" font-size="7.7" text-anchor="middle" fill="#222" font-weight="normal" stroke="#222" stroke-width="0.05" textLength="65" lengthAdjust="spacingAndGlyphs">Peptide (M) loaded on T2</text>
<text x="237.2" y="286.90000000000003" font-size="7.7" text-anchor="middle" fill="#1a1a1a" font-weight="normal" stroke="#1a1a1a" stroke-width="0.05" textLength="67.7" lengthAdjust="spacingAndGlyphs">NY-eso-1-SLL clones</text>
<text x="161.3" y="328.6" font-size="7.0" text-anchor="middle" fill="#222" font-weight="normal" stroke="#222" stroke-width="0.05" textLength="66" lengthAdjust="spacingAndGlyphs" transform="rotate(-90 161.3 328.6)">IFN-γ production (pg/ml)</text>
<polyline points="190.05,365.49 201.92,362.71 213.79,365.49 225.66,365.49 237.53,365.49 249.40,362.82 261.27,361.01 273.14,349.07 285.01,340.64" fill="none" stroke="#223f86" stroke-width="0.95" stroke-linejoin="round"/>
<circle cx="190.05" cy="365.49" r="1.5" fill="#223f86"/>
<circle cx="201.92" cy="362.71" r="1.5" fill="#223f86"/>
<circle cx="213.79" cy="365.49" r="1.5" fill="#223f86"/>
<circle cx="225.66" cy="365.49" r="1.5" fill="#223f86"/>
<circle cx="237.53" cy="365.49" r="1.5" fill="#223f86"/>
<circle cx="249.40" cy="362.82" r="1.5" fill="#223f86"/>
<circle cx="261.27" cy="361.01" r="1.5" fill="#223f86"/>
<circle cx="273.14" cy="349.07" r="1.5" fill="#223f86"/>
<circle cx="285.01" cy="340.64" r="1.5" fill="#223f86"/>
<polyline points="190.05,365.49 201.92,365.49 213.79,365.49 225.66,365.49 237.53,365.49 249.40,365.49 261.27,364.79 285.01,348.07" fill="none" stroke="#223f86" stroke-width="0.95" stroke-linejoin="round"/>
<circle cx="190.05" cy="365.49" r="1.5" fill="#223f86"/>
<circle cx="201.92" cy="365.49" r="1.5" fill="#223f86"/>
<circle cx="213.79" cy="365.49" r="1.5" fill="#223f86"/>
<circle cx="225.66" cy="365.49" r="1.5" fill="#223f86"/>
<circle cx="237.53" cy="365.49" r="1.5" fill="#223f86"/>
<circle cx="249.40" cy="365.49" r="1.5" fill="#223f86"/>
<circle cx="261.27" cy="364.79" r="1.5" fill="#223f86"/>
<circle cx="285.01" cy="348.07" r="1.5" fill="#223f86"/>
<polyline points="190.05,365.49 201.92,365.49 213.79,365.49 225.66,365.49 237.53,365.49 249.40,365.49 261.27,364.79 285.01,351.47" fill="none" stroke="#223f86" stroke-width="0.95" stroke-linejoin="round"/>
<circle cx="190.05" cy="365.49" r="1.5" fill="#223f86"/>
<circle cx="201.92" cy="365.49" r="1.5" fill="#223f86"/>
<circle cx="213.79" cy="365.49" r="1.5" fill="#223f86"/>
<circle cx="225.66" cy="365.49" r="1.5" fill="#223f86"/>
<circle cx="237.53" cy="365.49" r="1.5" fill="#223f86"/>
<circle cx="249.40" cy="365.49" r="1.5" fill="#223f86"/>
<circle cx="261.27" cy="364.79" r="1.5" fill="#223f86"/>
<circle cx="285.01" cy="351.47" r="1.5" fill="#223f86"/>
<polyline points="190.05,364.79 201.92,364.79 213.79,364.79 225.66,364.79 237.53,364.79 249.40,364.79 261.27,364.79 273.14,364.10 285.01,359.59" fill="none" stroke="#c9c9cc" stroke-width="1.0" stroke-linejoin="round"/>
<circle cx="190.05" cy="364.79" r="1.5" fill="#c9c9cc"/>
<circle cx="201.92" cy="364.79" r="1.5" fill="#c9c9cc"/>
<circle cx="213.79" cy="364.79" r="1.5" fill="#c9c9cc"/>
<circle cx="225.66" cy="364.79" r="1.5" fill="#c9c9cc"/>
<circle cx="237.53" cy="364.79" r="1.5" fill="#c9c9cc"/>
<circle cx="249.40" cy="364.79" r="1.5" fill="#c9c9cc"/>
<circle cx="261.27" cy="364.79" r="1.5" fill="#c9c9cc"/>
<circle cx="273.14" cy="364.10" r="1.5" fill="#c9c9cc"/>
<circle cx="285.01" cy="359.59" r="1.5" fill="#c9c9cc"/>
<polyline points="190.05,364.10 201.92,364.10 213.79,364.10 225.66,364.10 237.53,364.10 249.40,364.10 261.27,364.10 273.14,363.75 285.01,361.32" fill="none" stroke="#c9c9cc" stroke-width="1.0" stroke-linejoin="round"/>
<circle cx="190.05" cy="364.10" r="1.5" fill="#c9c9cc"/>
<circle cx="201.92" cy="364.10" r="1.5" fill="#c9c9cc"/>
<circle cx="213.79" cy="364.10" r="1.5" fill="#c9c9cc"/>
<circle cx="225.66" cy="364.10" r="1.5" fill="#c9c9cc"/>
<circle cx="237.53" cy="364.10" r="1.5" fill="#c9c9cc"/>
<circle cx="249.40" cy="364.10" r="1.5" fill="#c9c9cc"/>
<circle cx="261.27" cy="364.10" r="1.5" fill="#c9c9cc"/>
<circle cx="273.14" cy="363.75" r="1.5" fill="#c9c9cc"/>
<circle cx="285.01" cy="361.32" r="1.5" fill="#c9c9cc"/>
<polyline points="190.05,363.41 201.92,363.41 213.79,363.41 225.66,363.41 237.53,363.41 249.40,363.41 261.27,363.41 273.14,363.41 285.01,362.71" fill="none" stroke="#c9c9cc" stroke-width="1.0" stroke-linejoin="round"/>
<circle cx="190.05" cy="363.41" r="1.5" fill="#c9c9cc"/>
<circle cx="201.92" cy="363.41" r="1.5" fill="#c9c9cc"/>
<circle cx="213.79" cy="363.41" r="1.5" fill="#c9c9cc"/>
<circle cx="225.66" cy="363.41" r="1.5" fill="#c9c9cc"/>
<circle cx="237.53" cy="363.41" r="1.5" fill="#c9c9cc"/>
<circle cx="249.40" cy="363.41" r="1.5" fill="#c9c9cc"/>
<circle cx="261.27" cy="363.41" r="1.5" fill="#c9c9cc"/>
<circle cx="273.14" cy="363.41" r="1.5" fill="#c9c9cc"/>
<circle cx="285.01" cy="362.71" r="1.5" fill="#c9c9cc"/>
<polyline points="190.05,365.14 201.92,365.14 213.79,365.14 225.66,365.14 237.53,365.14 249.40,365.14 261.27,365.14 273.14,365.14 285.01,365.14" fill="none" stroke="#c9c9cc" stroke-width="1.0" stroke-linejoin="round"/>
<circle cx="190.05" cy="365.14" r="1.5" fill="#c9c9cc"/>
<circle cx="201.92" cy="365.14" r="1.5" fill="#c9c9cc"/>
<circle cx="213.79" cy="365.14" r="1.5" fill="#c9c9cc"/>
<circle cx="225.66" cy="365.14" r="1.5" fill="#c9c9cc"/>
<circle cx="237.53" cy="365.14" r="1.5" fill="#c9c9cc"/>
<circle cx="249.40" cy="365.14" r="1.5" fill="#c9c9cc"/>
<circle cx="261.27" cy="365.14" r="1.5" fill="#c9c9cc"/>
<circle cx="273.14" cy="365.14" r="1.5" fill="#c9c9cc"/>
<circle cx="285.01" cy="365.14" r="1.5" fill="#c9c9cc"/>
<polyline points="190.05,365.66 201.92,365.66 213.79,365.66 225.66,365.66 237.53,365.66 249.40,365.66 261.27,365.66 273.14,365.66 285.01,365.66" fill="none" stroke="#c9c9cc" stroke-width="1.0" stroke-linejoin="round"/>
<circle cx="190.05" cy="365.66" r="1.5" fill="#c9c9cc"/>
<circle cx="201.92" cy="365.66" r="1.5" fill="#c9c9cc"/>
<circle cx="213.79" cy="365.66" r="1.5" fill="#c9c9cc"/>
<circle cx="225.66" cy="365.66" r="1.5" fill="#c9c9cc"/>
<circle cx="237.53" cy="365.66" r="1.5" fill="#c9c9cc"/>
<circle cx="249.40" cy="365.66" r="1.5" fill="#c9c9cc"/>
<circle cx="261.27" cy="365.66" r="1.5" fill="#c9c9cc"/>
<circle cx="273.14" cy="365.66" r="1.5" fill="#c9c9cc"/>
<circle cx="285.01" cy="365.66" r="1.5" fill="#c9c9cc"/>
<polyline points="225.66,365.14 237.53,363.58 249.40,322.11 261.27,313.09 273.14,314.83 285.01,330.44" fill="none" stroke="#63ae42" stroke-width="0.85" stroke-linejoin="round"/>
<circle cx="225.66" cy="365.14" r="1.5" fill="#63ae42"/>
<circle cx="237.53" cy="363.58" r="1.5" fill="#63ae42"/>
<circle cx="249.40" cy="322.11" r="1.5" fill="#63ae42"/>
<circle cx="261.27" cy="313.09" r="1.5" fill="#63ae42"/>
<circle cx="273.14" cy="314.83" r="1.5" fill="#63ae42"/>
<circle cx="285.01" cy="330.44" r="1.5" fill="#63ae42"/>
<rect x="357.00" y="310.30" width="9.80" height="4.80" fill="#48165f"/>
<text x="369.6" y="314.9" font-size="6.5" text-anchor="start" fill="#222" font-weight="normal" stroke="#222" stroke-width="0.05" textLength="25.8" lengthAdjust="spacingAndGlyphs" letter-spacing="0.2">T2 reactive</text>
<rect x="357.00" y="321.10" width="9.80" height="4.80" fill="#c6c4ca"/>
<text x="369.6" y="325.7" font-size="6.5" text-anchor="start" fill="#222" font-weight="normal" stroke="#222" stroke-width="0.05" textLength="34" lengthAdjust="spacingAndGlyphs" letter-spacing="0.2">Not functional</text>
<rect x="357.00" y="331.90" width="9.80" height="4.80" fill="#2b4b86"/>
<text x="369.6" y="336.5" font-size="6.5" text-anchor="start" fill="#222" font-weight="normal" stroke="#222" stroke-width="0.05" textLength="26.8" lengthAdjust="spacingAndGlyphs" letter-spacing="0.2">Low avidity</text>
<rect x="357.00" y="342.70" width="9.80" height="4.80" fill="#66ad45"/>
<text x="369.6" y="347.3" font-size="6.5" text-anchor="start" fill="#222" font-weight="normal" stroke="#222" stroke-width="0.05" textLength="48" lengthAdjust="spacingAndGlyphs" letter-spacing="0.2">Intermediate avidity</text>
<rect x="0.6" y="0.6" width="518.8" height="394.8" fill="none" stroke="#000" stroke-width="1.4"/>
</svg></div></body></html>
